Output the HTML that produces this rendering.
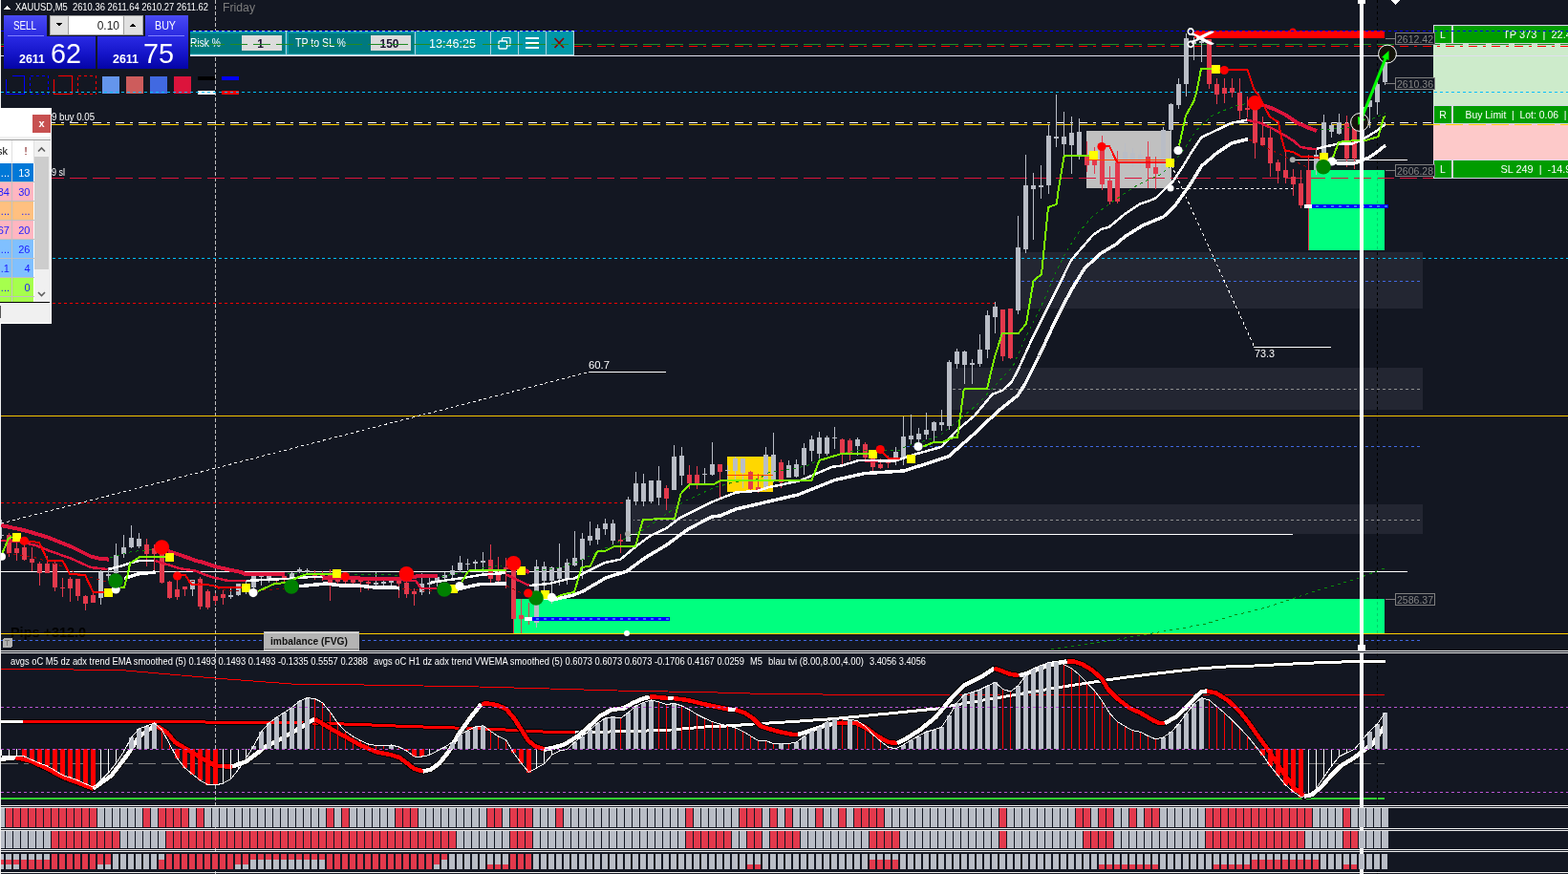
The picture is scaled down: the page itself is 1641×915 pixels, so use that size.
<!DOCTYPE html>
<html><head><meta charset="utf-8"><title>XAUUSD,M5</title>
<style>
html,body{margin:0;padding:0;background:#131722;overflow:hidden;width:1641px;height:915px}
svg{display:block;font-family:"Liberation Sans",sans-serif;shape-rendering:crispEdges}
.aa{shape-rendering:crispEdges}
text{white-space:pre}
</style></head><body>
<svg width="1641" height="915" viewBox="0 0 1641 915">
<defs>
<linearGradient id="gb" x1="0" y1="0" x2="0" y2="1"><stop offset="0" stop-color="#4a4af4"/><stop offset="1" stop-color="#2a2ae0"/></linearGradient>
<linearGradient id="gp" x1="0" y1="0" x2="0" y2="1"><stop offset="0" stop-color="#2a2ae4"/><stop offset="0.55" stop-color="#1414c8"/><stop offset="1" stop-color="#0404a6"/></linearGradient>
<clipPath id="cm"><rect x="0" y="0" width="1641" height="681"/></clipPath>
<clipPath id="ci"><rect x="0" y="684" width="1641" height="159"/></clipPath>
</defs>
<rect x="0" y="0" width="1641" height="915" fill="#131722"/>

<g clip-path="url(#cm)">
<rect x="1068" y="264" width="421" height="59" fill="#232632" />
<rect x="996" y="385" width="493" height="44" fill="#232632" />
<rect x="661" y="528" width="828" height="31" fill="#232632" />
<rect x="538" y="627" width="911" height="36" fill="#00ff7f" />
<rect x="1370" y="178" width="79" height="84" fill="#00ff7f" />
<rect x="1137" y="137" width="89" height="60" fill="#c0c0c0" />
<rect x="761" y="478" width="48" height="37" fill="#ffd700" />
<rect x="1500" y="46" width="141" height="65" fill="#cdebcb" />
<rect x="1500" y="130" width="141" height="38" fill="#fdc9c9" />
<rect x="1500" y="26" width="141" height="20" fill="#d6d8e6" />
<rect x="1501" y="27" width="18" height="18" fill="#009c00" />
<rect x="1521" y="27" width="120" height="18" fill="#009c00" />
<rect x="1500" y="110" width="141" height="20" fill="#d6d8e6" />
<rect x="1501" y="111" width="18" height="18" fill="#009c00" />
<rect x="1521" y="111" width="120" height="18" fill="#009c00" />
<rect x="1500" y="167" width="141" height="20" fill="#d6d8e6" />
<rect x="1501" y="168" width="18" height="18" fill="#009c00" />
<rect x="1521" y="168" width="120" height="18" fill="#009c00" />
<text x="1510" y="40" font-size="10.5" fill="#fff" text-anchor="middle" >L</text>
<text x="1510" y="124" font-size="10.5" fill="#fff" text-anchor="middle" >R</text>
<text x="1510" y="181" font-size="10.5" fill="#fff" text-anchor="middle" >L</text>
<text x="1573" y="40" font-size="10.5" fill="#fff" textLength="78" lengthAdjust="spacingAndGlyphs" >TP 373  |  22.47</text>
<text x="1533.5" y="124" font-size="10.5" fill="#fff" textLength="106" lengthAdjust="spacingAndGlyphs" >Buy Limit  |  Lot: 0.06  |</text>
<text x="1570.5" y="181" font-size="10.5" fill="#fff" textLength="80" lengthAdjust="spacingAndGlyphs" >SL 249  |  -14.95</text>
<path d="M1 48.5H1641" stroke="#ff0000" stroke-width="1" fill="none" stroke-dasharray="9,6,3,6" stroke-dashoffset="0" />
<path d="M225.5 0V681" stroke="#c0c0c0" stroke-width="1" fill="none" stroke-dasharray="4,2" stroke-dashoffset="0" />
<rect x="199" y="32" width="402" height="27" fill="#b4dce6" />
<rect x="199" y="33" width="402" height="24" fill="#0097a7" />
<rect x="199" y="35" width="99" height="21" fill="#00797f" />
<rect x="302" y="35" width="131" height="21" fill="#00797f" />
<rect x="299" y="33" width="1" height="24" fill="#b4d4e0" />
<rect x="434" y="33" width="1" height="24" fill="#b4d4e0" />
<rect x="513" y="33" width="1" height="24" fill="#b4d4e0" />
<rect x="542" y="33" width="1" height="24" fill="#b4d4e0" />
<rect x="571" y="33" width="1" height="24" fill="#b4d4e0" />
<rect x="600" y="33" width="1" height="24" fill="#b4d4e0" />
<rect x="300" y="33" width="1" height="24" fill="#0097a7" />
<rect x="253" y="37" width="42" height="16" fill="#dcdcdc" />
<rect x="388" y="37" width="42" height="16" fill="#dcdcdc" />
<text x="199" y="49" font-size="12" fill="#fff" textLength="32" lengthAdjust="spacingAndGlyphs" >Risk %</text>
<text x="272.5" y="49.5" font-size="12" fill="#1a1030" font-weight="bold" text-anchor="middle" >1</text>
<text x="309" y="49" font-size="12" fill="#fff" textLength="53" lengthAdjust="spacingAndGlyphs" >TP to SL %</text>
<text x="407.5" y="49.5" font-size="12" fill="#1a1030" font-weight="bold" text-anchor="middle" textLength="20" lengthAdjust="spacingAndGlyphs" >150</text>
<text x="449" y="50" font-size="13" fill="#fff" textLength="49" lengthAdjust="spacingAndGlyphs" >13:46:25</text>
<g fill="none" stroke="#fff" stroke-width="1" style="shape-rendering:geometricPrecision"><path d="M525.5 43V40.5a1 1 0 0 1 1 -1H533a1 1 0 0 1 1 1V47a1 1 0 0 1 -1 1H530.5" stroke-width="1.2"/><rect x="522" y="43" width="8.5" height="8" rx="1" stroke-width="1.3"/></g>
<rect x="550" y="39" width="14" height="2" fill="#fff" />
<rect x="550" y="44" width="14" height="2" fill="#fff" />
<rect x="550" y="49" width="14" height="2" fill="#fff" />
<path d="M580.5 40L590 50M590 40L580.5 50" stroke="#8b0000" stroke-width="1.7" fill="none" style="shape-rendering:geometricPrecision"/>
<text x="11" y="667" font-size="14" fill="#000" font-weight="bold" textLength="79" lengthAdjust="spacingAndGlyphs" >Pips +312.0</text>
<path d="M1 32.5H1641" stroke="#0000ff" stroke-width="1" fill="none" stroke-dasharray="3,3" stroke-dashoffset="0" />
<path d="M1 46.5H1641" stroke="#228b22" stroke-width="1" fill="none" stroke-dasharray="18,6" stroke-dashoffset="0" />
<path d="M601 48.5H1641" stroke="#ff0000" stroke-width="1" fill="none" stroke-dasharray="9,6,3,6" stroke-dashoffset="0" />
<path d="M1 58.5H1641" stroke="#e0e0ee" stroke-width="1" fill="none" />
<path d="M1 96.5H1641" stroke="#00bfff" stroke-width="1" fill="none" stroke-dasharray="3,3" stroke-dashoffset="0" />
<path d="M1 128.5H1500" stroke="#ffffff" stroke-width="1" fill="none" stroke-dasharray="9,6,3,6" stroke-dashoffset="0" />
<path d="M1 130.5H1641" stroke="#ffd000" stroke-width="1" fill="none" stroke-dasharray="18,6" stroke-dashoffset="0" />
<path d="M1 186.5H1500" stroke="#dc143c" stroke-width="1" fill="none" stroke-dasharray="18,6" stroke-dashoffset="0" />
<path d="M1 270.5H1641" stroke="#00bfff" stroke-width="1" fill="none" stroke-dasharray="3,3" stroke-dashoffset="0" />
<path d="M1065 294.5H1489" stroke="#4169e1" stroke-width="1" fill="none" stroke-dasharray="3,3" stroke-dashoffset="2" />
<path d="M1 317.5H1041" stroke="#ff0000" stroke-width="1" fill="none" stroke-dasharray="3,3" stroke-dashoffset="0" />
<path d="M997 407.5H1489" stroke="#909090" stroke-width="1" fill="none" stroke-dasharray="3,3" stroke-dashoffset="0" />
<path d="M1 435.5H1641" stroke="#f5c400" stroke-width="1" fill="none" />
<path d="M945 467.5H1489" stroke="#4169e1" stroke-width="1" fill="none" stroke-dasharray="3,3" stroke-dashoffset="2" />
<path d="M1 526.5H657" stroke="#ff0000" stroke-width="1" fill="none" stroke-dasharray="3,3" stroke-dashoffset="0" />
<path d="M663 544.5H1489" stroke="#909090" stroke-width="1" fill="none" stroke-dasharray="3,3" stroke-dashoffset="2" />
<path d="M657 559.5H1353" stroke="#ffffff" stroke-width="1" fill="none" />
<path d="M1 598.5H1473" stroke="#ffffff" stroke-width="1" fill="none" />
<path d="M1353 167.5H1473" stroke="#ffffff" stroke-width="1" fill="none" />
<path d="M1225 197.5H1353" stroke="#ffffff" stroke-width="1" fill="none" stroke-dasharray="3,3" stroke-dashoffset="0" />
<path d="M1 663.5H1641" stroke="#ffd000" stroke-width="1" fill="none" />
<path d="M1 670.5H1489" stroke="#4169e1" stroke-width="1" fill="none" stroke-dasharray="3,3" stroke-dashoffset="0" />
<path d="M1441.5 0V681" stroke="#000000" stroke-width="1" fill="none" stroke-dasharray="3,3" stroke-dashoffset="0" />
<rect x="1441" y="178" width="1" height="84" fill="#00ff7f" />
<rect x="1441" y="627" width="1" height="36" fill="#00ff7f" />
<path d="M1441.5 178V262" stroke="#000000" stroke-width="1" fill="none" stroke-dasharray="3,3" stroke-dashoffset="4" opacity="0.18"/>
<path d="M1441.5 627V663" stroke="#000000" stroke-width="1" fill="none" stroke-dasharray="3,3" stroke-dashoffset="3" opacity="0.18"/>
<rect x="1250" y="32" width="199" height="8" fill="#ff0000" />
<circle style="shape-rendering:geometricPrecision" cx="1353" cy="33" r="3.5" fill="#ff0000" />
<path d="M1250 32.5H1449" stroke="#0000ff" stroke-width="1" fill="none" stroke-dasharray="3,3" stroke-dashoffset="1" />
<path d="M1 548L616 389.5" stroke="#fff" stroke-width="1" stroke-dasharray="3,3" fill="none" class="aa"/>
<path d="M616 389.5H697" stroke="#ffffff" stroke-width="1" fill="none" />
<path d="M1226 173L1312.5 362.5" stroke="#fff" stroke-width="1" stroke-dasharray="3,3" fill="none" class="aa"/>
<path d="M1312 363.5H1393" stroke="#ffffff" stroke-width="1" fill="none" />
<text x="616" y="386" font-size="11" fill="#fff" textLength="22" lengthAdjust="spacingAndGlyphs" >60.7</text>
<text x="1313" y="374" font-size="11" fill="#fff" textLength="21" lengthAdjust="spacingAndGlyphs" >73.3</text>
<text x="54" y="126" font-size="11" fill="#fff" textLength="45" lengthAdjust="spacingAndGlyphs" >9 buy 0.05</text>
<text x="54" y="184" font-size="11" fill="#fff" textLength="14" lengthAdjust="spacingAndGlyphs" >9 sl</text>
<rect x="1" y="544" width="1" height="20" fill="#b9bdc6" />
<rect x="-1" y="560" width="5" height="1" fill="#b9bdc6" />
<rect x="9" y="558" width="1" height="25" fill="#e3394c" />
<rect x="7" y="560" width="5" height="19" fill="#e3394c" />
<rect x="17" y="568" width="1" height="19" fill="#e3394c" />
<rect x="15" y="574" width="5" height="5" fill="#e3394c" />
<rect x="25" y="570" width="1" height="17" fill="#e3394c" />
<rect x="23" y="573" width="5" height="13" fill="#e3394c" />
<rect x="33" y="573" width="1" height="25" fill="#e3394c" />
<rect x="31" y="585" width="5" height="4" fill="#e3394c" />
<rect x="41" y="588" width="1" height="25" fill="#e3394c" />
<rect x="39" y="590" width="5" height="10" fill="#e3394c" />
<rect x="49" y="582" width="1" height="18" fill="#e3394c" />
<rect x="47" y="590" width="5" height="10" fill="#e3394c" />
<rect x="57" y="588" width="1" height="31" fill="#e3394c" />
<rect x="55" y="590" width="5" height="25" fill="#e3394c" />
<rect x="65" y="605" width="1" height="20" fill="#e3394c" />
<rect x="63" y="615" width="5" height="1" fill="#e3394c" />
<rect x="73" y="604" width="1" height="26" fill="#e3394c" />
<rect x="71" y="606" width="5" height="10" fill="#e3394c" />
<rect x="81" y="606" width="1" height="23" fill="#e3394c" />
<rect x="79" y="606" width="5" height="18" fill="#e3394c" />
<rect x="89" y="623" width="1" height="16" fill="#e3394c" />
<rect x="87" y="624" width="5" height="8" fill="#e3394c" />
<rect x="97" y="621" width="1" height="10" fill="#e3394c" />
<rect x="95" y="623" width="5" height="8" fill="#e3394c" />
<rect x="105" y="597" width="1" height="36" fill="#b9bdc6" />
<rect x="103" y="599" width="5" height="27" fill="#b9bdc6" />
<rect x="113" y="594" width="1" height="14" fill="#b9bdc6" />
<rect x="111" y="601" width="5" height="2" fill="#b9bdc6" />
<rect x="121" y="569" width="1" height="35" fill="#b9bdc6" />
<rect x="119" y="581" width="5" height="19" fill="#b9bdc6" />
<rect x="129" y="560" width="1" height="24" fill="#b9bdc6" />
<rect x="127" y="573" width="5" height="7" fill="#b9bdc6" />
<rect x="137" y="550" width="1" height="24" fill="#b9bdc6" />
<rect x="135" y="563" width="5" height="10" fill="#b9bdc6" />
<rect x="145" y="558" width="1" height="16" fill="#b9bdc6" />
<rect x="143" y="564" width="5" height="8" fill="#b9bdc6" />
<rect x="153" y="564" width="1" height="29" fill="#e3394c" />
<rect x="151" y="570" width="5" height="10" fill="#e3394c" />
<rect x="161" y="570" width="1" height="27" fill="#e3394c" />
<rect x="159" y="574" width="5" height="6" fill="#e3394c" />
<rect x="169" y="574" width="1" height="37" fill="#e3394c" />
<rect x="167" y="575" width="5" height="35" fill="#e3394c" />
<rect x="177" y="608" width="1" height="19" fill="#e3394c" />
<rect x="175" y="609" width="5" height="17" fill="#e3394c" />
<rect x="185" y="606" width="1" height="22" fill="#e3394c" />
<rect x="183" y="617" width="5" height="8" fill="#e3394c" />
<rect x="193" y="614" width="1" height="10" fill="#e3394c" />
<rect x="191" y="614" width="5" height="3" fill="#e3394c" />
<rect x="201" y="607" width="1" height="17" fill="#b9bdc6" />
<rect x="199" y="607" width="5" height="10" fill="#b9bdc6" />
<rect x="209" y="604" width="1" height="34" fill="#e3394c" />
<rect x="207" y="606" width="5" height="29" fill="#e3394c" />
<rect x="217" y="617" width="1" height="21" fill="#e3394c" />
<rect x="215" y="619" width="5" height="17" fill="#e3394c" />
<rect x="225" y="621" width="1" height="12" fill="#e3394c" />
<rect x="223" y="624" width="5" height="5" fill="#e3394c" />
<rect x="233" y="618" width="1" height="15" fill="#e3394c" />
<rect x="231" y="622" width="5" height="4" fill="#e3394c" />
<rect x="241" y="616" width="1" height="11" fill="#b9bdc6" />
<rect x="239" y="623" width="5" height="2" fill="#b9bdc6" />
<rect x="249" y="611" width="1" height="13" fill="#b9bdc6" />
<rect x="247" y="611" width="5" height="12" fill="#b9bdc6" />
<rect x="257" y="608" width="1" height="14" fill="#b9bdc6" />
<rect x="255" y="611" width="5" height="9" fill="#b9bdc6" />
<rect x="265" y="602" width="1" height="14" fill="#b9bdc6" />
<rect x="263" y="603" width="5" height="12" fill="#b9bdc6" />
<rect x="273" y="602" width="1" height="11" fill="#b9bdc6" />
<rect x="271" y="602" width="5" height="2" fill="#b9bdc6" />
<rect x="281" y="602" width="1" height="8" fill="#b9bdc6" />
<rect x="279" y="602" width="5" height="4" fill="#b9bdc6" />
<rect x="289" y="605" width="1" height="5" fill="#e3394c" />
<rect x="287" y="606" width="5" height="2" fill="#e3394c" />
<rect x="297" y="603" width="1" height="8" fill="#e3394c" />
<rect x="295" y="603" width="5" height="3" fill="#e3394c" />
<rect x="305" y="599" width="1" height="7" fill="#b9bdc6" />
<rect x="303" y="600" width="5" height="4" fill="#b9bdc6" />
<rect x="313" y="594" width="1" height="6" fill="#b9bdc6" />
<rect x="311" y="596" width="5" height="3" fill="#b9bdc6" />
<rect x="321" y="595" width="1" height="5" fill="#b9bdc6" />
<rect x="319" y="597" width="5" height="2" fill="#b9bdc6" />
<rect x="329" y="597" width="1" height="10" fill="#e3394c" />
<rect x="327" y="601" width="5" height="2" fill="#e3394c" />
<rect x="337" y="598" width="1" height="10" fill="#e3394c" />
<rect x="335" y="602" width="5" height="2" fill="#e3394c" />
<rect x="345" y="596" width="1" height="33" fill="#e3394c" />
<rect x="343" y="602" width="5" height="9" fill="#e3394c" />
<rect x="353" y="604" width="1" height="7" fill="#e3394c" />
<rect x="351" y="606" width="5" height="3" fill="#e3394c" />
<rect x="361" y="601" width="1" height="11" fill="#e3394c" />
<rect x="359" y="607" width="5" height="2" fill="#e3394c" />
<rect x="369" y="605" width="1" height="6" fill="#e3394c" />
<rect x="367" y="607" width="5" height="3" fill="#e3394c" />
<rect x="377" y="605" width="1" height="15" fill="#e3394c" />
<rect x="375" y="607" width="5" height="2" fill="#e3394c" />
<rect x="385" y="608" width="1" height="10" fill="#e3394c" />
<rect x="383" y="609" width="5" height="2" fill="#e3394c" />
<rect x="393" y="599" width="1" height="14" fill="#b9bdc6" />
<rect x="391" y="610" width="5" height="2" fill="#b9bdc6" />
<rect x="401" y="604" width="1" height="9" fill="#b9bdc6" />
<rect x="399" y="609" width="5" height="2" fill="#b9bdc6" />
<rect x="409" y="604" width="1" height="9" fill="#b9bdc6" />
<rect x="407" y="608" width="5" height="2" fill="#b9bdc6" />
<rect x="417" y="606" width="1" height="20" fill="#e3394c" />
<rect x="415" y="608" width="5" height="3" fill="#e3394c" />
<rect x="425" y="606" width="1" height="20" fill="#e3394c" />
<rect x="423" y="610" width="5" height="12" fill="#e3394c" />
<rect x="433" y="616" width="1" height="18" fill="#e3394c" />
<rect x="431" y="619" width="5" height="3" fill="#e3394c" />
<rect x="441" y="600" width="1" height="23" fill="#b9bdc6" />
<rect x="439" y="611" width="5" height="9" fill="#b9bdc6" />
<rect x="449" y="605" width="1" height="17" fill="#b9bdc6" />
<rect x="447" y="610" width="5" height="2" fill="#b9bdc6" />
<rect x="457" y="603" width="1" height="11" fill="#b9bdc6" />
<rect x="455" y="604" width="5" height="5" fill="#b9bdc6" />
<rect x="465" y="599" width="1" height="7" fill="#b9bdc6" />
<rect x="463" y="602" width="5" height="3" fill="#b9bdc6" />
<rect x="473" y="592" width="1" height="14" fill="#b9bdc6" />
<rect x="471" y="597" width="5" height="5" fill="#b9bdc6" />
<rect x="481" y="582" width="1" height="17" fill="#b9bdc6" />
<rect x="479" y="589" width="5" height="8" fill="#b9bdc6" />
<rect x="489" y="585" width="1" height="12" fill="#b9bdc6" />
<rect x="487" y="590" width="5" height="1" fill="#b9bdc6" />
<rect x="497" y="586" width="1" height="11" fill="#b9bdc6" />
<rect x="495" y="588" width="5" height="2" fill="#b9bdc6" />
<rect x="505" y="578" width="1" height="23" fill="#b9bdc6" />
<rect x="503" y="587" width="5" height="2" fill="#b9bdc6" />
<rect x="513" y="570" width="1" height="40" fill="#e3394c" />
<rect x="511" y="586" width="5" height="20" fill="#e3394c" />
<rect x="521" y="583" width="1" height="27" fill="#e3394c" />
<rect x="519" y="599" width="5" height="9" fill="#e3394c" />
<rect x="529" y="584" width="1" height="32" fill="#e3394c" />
<rect x="527" y="594" width="5" height="2" fill="#e3394c" />
<rect x="537" y="590" width="1" height="73" fill="#e3394c" />
<rect x="535" y="596" width="5" height="52" fill="#e3394c" />
<rect x="545" y="627" width="1" height="36" fill="#e3394c" />
<rect x="543" y="644" width="5" height="4" fill="#e3394c" />
<rect x="553" y="631" width="1" height="23" fill="#e3394c" />
<rect x="551" y="647" width="5" height="3" fill="#e3394c" />
<rect x="561" y="586" width="1" height="71" fill="#b9bdc6" />
<rect x="559" y="593" width="5" height="59" fill="#b9bdc6" />
<rect x="569" y="588" width="1" height="32" fill="#b9bdc6" />
<rect x="567" y="593" width="5" height="15" fill="#b9bdc6" />
<rect x="577" y="593" width="1" height="39" fill="#b9bdc6" />
<rect x="575" y="594" width="5" height="14" fill="#b9bdc6" />
<rect x="585" y="569" width="1" height="44" fill="#b9bdc6" />
<rect x="583" y="594" width="5" height="12" fill="#b9bdc6" />
<rect x="593" y="585" width="1" height="27" fill="#b9bdc6" />
<rect x="591" y="589" width="5" height="17" fill="#b9bdc6" />
<rect x="601" y="556" width="1" height="37" fill="#b9bdc6" />
<rect x="599" y="584" width="5" height="8" fill="#b9bdc6" />
<rect x="609" y="558" width="1" height="48" fill="#b9bdc6" />
<rect x="607" y="564" width="5" height="22" fill="#b9bdc6" />
<rect x="617" y="546" width="1" height="25" fill="#b9bdc6" />
<rect x="615" y="561" width="5" height="5" fill="#b9bdc6" />
<rect x="625" y="549" width="1" height="21" fill="#b9bdc6" />
<rect x="623" y="553" width="5" height="12" fill="#b9bdc6" />
<rect x="633" y="543" width="1" height="17" fill="#b9bdc6" />
<rect x="631" y="548" width="5" height="6" fill="#b9bdc6" />
<rect x="641" y="544" width="1" height="26" fill="#b9bdc6" />
<rect x="639" y="548" width="5" height="18" fill="#b9bdc6" />
<rect x="649" y="559" width="1" height="20" fill="#e3394c" />
<rect x="647" y="565" width="5" height="2" fill="#e3394c" />
<rect x="657" y="520" width="1" height="47" fill="#b9bdc6" />
<rect x="655" y="523" width="5" height="44" fill="#b9bdc6" />
<rect x="665" y="494" width="1" height="35" fill="#b9bdc6" />
<rect x="663" y="506" width="5" height="19" fill="#b9bdc6" />
<rect x="673" y="496" width="1" height="34" fill="#b9bdc6" />
<rect x="671" y="506" width="5" height="19" fill="#b9bdc6" />
<rect x="681" y="503" width="1" height="24" fill="#b9bdc6" />
<rect x="679" y="503" width="5" height="22" fill="#b9bdc6" />
<rect x="689" y="488" width="1" height="41" fill="#b9bdc6" />
<rect x="687" y="503" width="5" height="18" fill="#b9bdc6" />
<rect x="697" y="508" width="1" height="26" fill="#e3394c" />
<rect x="695" y="511" width="5" height="11" fill="#e3394c" />
<rect x="705" y="466" width="1" height="47" fill="#b9bdc6" />
<rect x="703" y="478" width="5" height="35" fill="#b9bdc6" />
<rect x="713" y="468" width="1" height="40" fill="#b9bdc6" />
<rect x="711" y="477" width="5" height="21" fill="#b9bdc6" />
<rect x="721" y="487" width="1" height="25" fill="#e3394c" />
<rect x="719" y="497" width="5" height="9" fill="#e3394c" />
<rect x="729" y="488" width="1" height="24" fill="#e3394c" />
<rect x="727" y="497" width="5" height="9" fill="#e3394c" />
<rect x="737" y="490" width="1" height="16" fill="#b9bdc6" />
<rect x="735" y="496" width="5" height="1" fill="#b9bdc6" />
<rect x="745" y="463" width="1" height="35" fill="#b9bdc6" />
<rect x="743" y="486" width="5" height="11" fill="#b9bdc6" />
<rect x="753" y="486" width="1" height="36" fill="#e3394c" />
<rect x="751" y="486" width="5" height="8" fill="#e3394c" />
<rect x="761" y="487" width="1" height="18" fill="#b9bdc6" />
<rect x="759" y="492" width="5" height="1" fill="#b9bdc6" />
<rect x="769" y="478" width="1" height="25" fill="#b9bdc6" />
<rect x="767" y="480" width="5" height="13" fill="#b9bdc6" />
<rect x="777" y="480" width="1" height="31" fill="#b9bdc6" />
<rect x="775" y="480" width="5" height="15" fill="#b9bdc6" />
<rect x="785" y="493" width="1" height="20" fill="#e3394c" />
<rect x="783" y="494" width="5" height="18" fill="#e3394c" />
<rect x="793" y="496" width="1" height="20" fill="#e3394c" />
<rect x="791" y="510" width="5" height="3" fill="#e3394c" />
<rect x="801" y="468" width="1" height="46" fill="#b9bdc6" />
<rect x="799" y="476" width="5" height="34" fill="#b9bdc6" />
<rect x="809" y="453" width="1" height="52" fill="#b9bdc6" />
<rect x="807" y="476" width="5" height="28" fill="#b9bdc6" />
<rect x="817" y="481" width="1" height="30" fill="#e3394c" />
<rect x="815" y="484" width="5" height="21" fill="#e3394c" />
<rect x="825" y="482" width="1" height="18" fill="#b9bdc6" />
<rect x="823" y="487" width="5" height="13" fill="#b9bdc6" />
<rect x="833" y="481" width="1" height="19" fill="#b9bdc6" />
<rect x="831" y="486" width="5" height="13" fill="#b9bdc6" />
<rect x="841" y="464" width="1" height="33" fill="#b9bdc6" />
<rect x="839" y="469" width="5" height="18" fill="#b9bdc6" />
<rect x="849" y="456" width="1" height="27" fill="#b9bdc6" />
<rect x="847" y="460" width="5" height="12" fill="#b9bdc6" />
<rect x="857" y="452" width="1" height="28" fill="#b9bdc6" />
<rect x="855" y="458" width="5" height="17" fill="#b9bdc6" />
<rect x="865" y="456" width="1" height="21" fill="#b9bdc6" />
<rect x="863" y="458" width="5" height="17" fill="#b9bdc6" />
<rect x="873" y="447" width="1" height="23" fill="#b9bdc6" />
<rect x="871" y="458" width="5" height="1" fill="#b9bdc6" />
<rect x="881" y="459" width="1" height="27" fill="#e3394c" />
<rect x="879" y="460" width="5" height="15" fill="#e3394c" />
<rect x="889" y="459" width="1" height="23" fill="#e3394c" />
<rect x="887" y="461" width="5" height="13" fill="#e3394c" />
<rect x="897" y="458" width="1" height="19" fill="#b9bdc6" />
<rect x="895" y="460" width="5" height="7" fill="#b9bdc6" />
<rect x="905" y="463" width="1" height="18" fill="#e3394c" />
<rect x="903" y="465" width="5" height="14" fill="#e3394c" />
<rect x="913" y="478" width="1" height="15" fill="#e3394c" />
<rect x="911" y="480" width="5" height="9" fill="#e3394c" />
<rect x="921" y="480" width="1" height="11" fill="#e3394c" />
<rect x="919" y="486" width="5" height="4" fill="#e3394c" />
<rect x="929" y="477" width="1" height="13" fill="#e3394c" />
<rect x="927" y="481" width="5" height="4" fill="#e3394c" />
<rect x="937" y="468" width="1" height="19" fill="#b9bdc6" />
<rect x="935" y="473" width="5" height="10" fill="#b9bdc6" />
<rect x="945" y="436" width="1" height="51" fill="#b9bdc6" />
<rect x="943" y="457" width="5" height="23" fill="#b9bdc6" />
<rect x="953" y="434" width="1" height="32" fill="#b9bdc6" />
<rect x="951" y="456" width="5" height="4" fill="#b9bdc6" />
<rect x="961" y="448" width="1" height="15" fill="#b9bdc6" />
<rect x="959" y="454" width="5" height="6" fill="#b9bdc6" />
<rect x="969" y="432" width="1" height="28" fill="#b9bdc6" />
<rect x="967" y="450" width="5" height="5" fill="#b9bdc6" />
<rect x="977" y="441" width="1" height="22" fill="#b9bdc6" />
<rect x="975" y="442" width="5" height="9" fill="#b9bdc6" />
<rect x="985" y="429" width="1" height="22" fill="#b9bdc6" />
<rect x="983" y="442" width="5" height="3" fill="#b9bdc6" />
<rect x="993" y="377" width="1" height="73" fill="#b9bdc6" />
<rect x="991" y="379" width="5" height="67" fill="#b9bdc6" />
<rect x="1001" y="365" width="1" height="21" fill="#b9bdc6" />
<rect x="999" y="368" width="5" height="13" fill="#b9bdc6" />
<rect x="1009" y="367" width="1" height="35" fill="#b9bdc6" />
<rect x="1007" y="368" width="5" height="14" fill="#b9bdc6" />
<rect x="1017" y="376" width="1" height="26" fill="#b9bdc6" />
<rect x="1015" y="380" width="5" height="2" fill="#b9bdc6" />
<rect x="1025" y="350" width="1" height="34" fill="#b9bdc6" />
<rect x="1023" y="366" width="5" height="15" fill="#b9bdc6" />
<rect x="1033" y="325" width="1" height="50" fill="#b9bdc6" />
<rect x="1031" y="330" width="5" height="36" fill="#b9bdc6" />
<rect x="1041" y="316" width="1" height="33" fill="#b9bdc6" />
<rect x="1039" y="321" width="5" height="11" fill="#b9bdc6" />
<rect x="1049" y="324" width="1" height="54" fill="#e3394c" />
<rect x="1047" y="324" width="5" height="49" fill="#e3394c" />
<rect x="1057" y="323" width="1" height="53" fill="#e3394c" />
<rect x="1055" y="323" width="5" height="52" fill="#e3394c" />
<rect x="1065" y="226" width="1" height="103" fill="#b9bdc6" />
<rect x="1063" y="259" width="5" height="66" fill="#b9bdc6" />
<rect x="1073" y="162" width="1" height="103" fill="#b9bdc6" />
<rect x="1071" y="194" width="5" height="67" fill="#b9bdc6" />
<rect x="1081" y="181" width="1" height="70" fill="#b9bdc6" />
<rect x="1079" y="194" width="5" height="4" fill="#b9bdc6" />
<rect x="1089" y="173" width="1" height="35" fill="#b9bdc6" />
<rect x="1087" y="194" width="5" height="2" fill="#b9bdc6" />
<rect x="1097" y="131" width="1" height="72" fill="#b9bdc6" />
<rect x="1095" y="142" width="5" height="52" fill="#b9bdc6" />
<rect x="1105" y="99" width="1" height="55" fill="#b9bdc6" />
<rect x="1103" y="143" width="5" height="2" fill="#b9bdc6" />
<rect x="1113" y="117" width="1" height="47" fill="#b9bdc6" />
<rect x="1111" y="143" width="5" height="8" fill="#b9bdc6" />
<rect x="1121" y="122" width="1" height="60" fill="#b9bdc6" />
<rect x="1119" y="139" width="5" height="13" fill="#b9bdc6" />
<rect x="1129" y="124" width="1" height="43" fill="#b9bdc6" />
<rect x="1127" y="138" width="5" height="24" fill="#b9bdc6" />
<rect x="1137" y="148" width="1" height="32" fill="#e3394c" />
<rect x="1135" y="164" width="5" height="9" fill="#e3394c" />
<rect x="1145" y="154" width="1" height="28" fill="#e3394c" />
<rect x="1143" y="167" width="5" height="6" fill="#e3394c" />
<rect x="1153" y="142" width="1" height="57" fill="#e3394c" />
<rect x="1151" y="153" width="5" height="40" fill="#e3394c" />
<rect x="1161" y="174" width="1" height="40" fill="#e3394c" />
<rect x="1159" y="189" width="5" height="22" fill="#e3394c" />
<rect x="1169" y="158" width="1" height="55" fill="#e3394c" />
<rect x="1167" y="170" width="5" height="41" fill="#e3394c" />
<rect x="1177" y="150" width="1" height="22" fill="#b9bdc6" />
<rect x="1175" y="159" width="5" height="11" fill="#b9bdc6" />
<rect x="1185" y="155" width="1" height="20" fill="#b9bdc6" />
<rect x="1183" y="160" width="5" height="8" fill="#b9bdc6" />
<rect x="1193" y="157" width="1" height="19" fill="#b9bdc6" />
<rect x="1191" y="162" width="5" height="5" fill="#b9bdc6" />
<rect x="1201" y="148" width="1" height="49" fill="#e3394c" />
<rect x="1199" y="164" width="5" height="12" fill="#e3394c" />
<rect x="1209" y="164" width="1" height="34" fill="#e3394c" />
<rect x="1207" y="175" width="5" height="7" fill="#e3394c" />
<rect x="1217" y="133" width="1" height="52" fill="#b9bdc6" />
<rect x="1215" y="136" width="5" height="46" fill="#b9bdc6" />
<rect x="1225" y="108" width="1" height="43" fill="#b9bdc6" />
<rect x="1223" y="109" width="5" height="27" fill="#b9bdc6" />
<rect x="1233" y="82" width="1" height="32" fill="#b9bdc6" />
<rect x="1231" y="88" width="5" height="22" fill="#b9bdc6" />
<rect x="1241" y="35" width="1" height="66" fill="#b9bdc6" />
<rect x="1239" y="40" width="5" height="48" fill="#b9bdc6" />
<rect x="1249" y="39" width="1" height="24" fill="#b9bdc6" />
<rect x="1247" y="44" width="5" height="2" fill="#b9bdc6" />
<rect x="1257" y="41" width="1" height="24" fill="#b9bdc6" />
<rect x="1255" y="43" width="5" height="2" fill="#b9bdc6" />
<rect x="1265" y="41" width="1" height="52" fill="#e3394c" />
<rect x="1263" y="41" width="5" height="47" fill="#e3394c" />
<rect x="1273" y="82" width="1" height="27" fill="#e3394c" />
<rect x="1271" y="88" width="5" height="11" fill="#e3394c" />
<rect x="1281" y="82" width="1" height="26" fill="#e3394c" />
<rect x="1279" y="92" width="5" height="6" fill="#e3394c" />
<rect x="1289" y="82" width="1" height="20" fill="#e3394c" />
<rect x="1287" y="92" width="5" height="5" fill="#e3394c" />
<rect x="1297" y="82" width="1" height="43" fill="#e3394c" />
<rect x="1295" y="97" width="5" height="19" fill="#e3394c" />
<rect x="1305" y="101" width="1" height="22" fill="#e3394c" />
<rect x="1303" y="113" width="5" height="2" fill="#e3394c" />
<rect x="1313" y="108" width="1" height="58" fill="#e3394c" />
<rect x="1311" y="114" width="5" height="36" fill="#e3394c" />
<rect x="1321" y="122" width="1" height="31" fill="#e3394c" />
<rect x="1319" y="144" width="5" height="8" fill="#e3394c" />
<rect x="1329" y="135" width="1" height="50" fill="#e3394c" />
<rect x="1327" y="144" width="5" height="27" fill="#e3394c" />
<rect x="1337" y="167" width="1" height="25" fill="#e3394c" />
<rect x="1335" y="170" width="5" height="9" fill="#e3394c" />
<rect x="1345" y="159" width="1" height="33" fill="#e3394c" />
<rect x="1343" y="178" width="5" height="8" fill="#e3394c" />
<rect x="1353" y="177" width="1" height="28" fill="#e3394c" />
<rect x="1351" y="185" width="5" height="8" fill="#e3394c" />
<rect x="1361" y="178" width="1" height="40" fill="#e3394c" />
<rect x="1359" y="192" width="5" height="23" fill="#e3394c" />
<rect x="1369" y="162" width="1" height="100" fill="#e3394c" />
<rect x="1367" y="178" width="5" height="37" fill="#e3394c" />
<rect x="1377" y="157" width="1" height="26" fill="#b9bdc6" />
<rect x="1375" y="162" width="5" height="16" fill="#b9bdc6" />
<rect x="1385" y="120" width="1" height="45" fill="#b9bdc6" />
<rect x="1383" y="128" width="5" height="34" fill="#b9bdc6" />
<rect x="1393" y="128" width="1" height="16" fill="#b9bdc6" />
<rect x="1391" y="131" width="5" height="7" fill="#b9bdc6" />
<rect x="1401" y="119" width="1" height="22" fill="#b9bdc6" />
<rect x="1399" y="128" width="5" height="12" fill="#b9bdc6" />
<rect x="1409" y="121" width="1" height="54" fill="#e3394c" />
<rect x="1407" y="129" width="5" height="37" fill="#e3394c" />
<rect x="1417" y="128" width="1" height="49" fill="#e3394c" />
<rect x="1415" y="131" width="5" height="35" fill="#e3394c" />
<rect x="1425" y="110" width="1" height="58" fill="#b9bdc6" />
<rect x="1423" y="112" width="5" height="54" fill="#b9bdc6" />
<rect x="1433" y="104" width="1" height="30" fill="#b9bdc6" />
<rect x="1431" y="105" width="5" height="7" fill="#b9bdc6" />
<rect x="1441" y="86" width="1" height="34" fill="#b9bdc6" />
<rect x="1439" y="88" width="5" height="19" fill="#b9bdc6" />
<rect x="1449" y="57" width="1" height="32" fill="#b9bdc6" />
<rect x="1447" y="60" width="5" height="26" fill="#b9bdc6" />
<rect x="557" y="646" width="144" height="4" fill="#0000ff" />
<rect x="549" y="646" width="8" height="4" fill="#ffffff" />
<rect x="1372" y="214" width="81" height="4" fill="#0000ff" />
<rect x="1365" y="214" width="8" height="4" fill="#ffffff" />
<rect x="561" y="647" width="3" height="2" fill="#2a7cff" />
<rect x="569" y="647" width="3" height="2" fill="#2a7cff" />
<rect x="577" y="647" width="3" height="2" fill="#2a7cff" />
<rect x="585" y="647" width="3" height="2" fill="#2a7cff" />
<rect x="593" y="647" width="3" height="2" fill="#2a7cff" />
<rect x="601" y="647" width="3" height="2" fill="#2a7cff" />
<rect x="609" y="647" width="3" height="2" fill="#2a7cff" />
<rect x="617" y="647" width="3" height="2" fill="#2a7cff" />
<rect x="625" y="647" width="3" height="2" fill="#2a7cff" />
<rect x="633" y="647" width="3" height="2" fill="#2a7cff" />
<rect x="641" y="647" width="3" height="2" fill="#2a7cff" />
<rect x="649" y="647" width="3" height="2" fill="#2a7cff" />
<rect x="657" y="647" width="3" height="2" fill="#2a7cff" />
<rect x="665" y="647" width="3" height="2" fill="#2a7cff" />
<rect x="673" y="647" width="3" height="2" fill="#2a7cff" />
<rect x="681" y="647" width="3" height="2" fill="#2a7cff" />
<rect x="689" y="647" width="3" height="2" fill="#2a7cff" />
<rect x="697" y="647" width="3" height="2" fill="#2a7cff" />
<rect x="1377" y="215" width="3" height="2" fill="#2a7cff" />
<rect x="1385" y="215" width="3" height="2" fill="#2a7cff" />
<rect x="1393" y="215" width="3" height="2" fill="#2a7cff" />
<rect x="1401" y="215" width="3" height="2" fill="#2a7cff" />
<rect x="1409" y="215" width="3" height="2" fill="#2a7cff" />
<rect x="1417" y="215" width="3" height="2" fill="#2a7cff" />
<rect x="1425" y="215" width="3" height="2" fill="#2a7cff" />
<rect x="1433" y="215" width="3" height="2" fill="#2a7cff" />
<rect x="1441" y="215" width="3" height="2" fill="#2a7cff" />
<rect x="1449" y="215" width="3" height="2" fill="#2a7cff" />
<path d="M761 497.5H809" stroke="#ff4500" stroke-width="1" fill="none" />
<path d="M1137 167.5H1225" stroke="#ff4500" stroke-width="1" fill="none" />
<polyline class="aa" points="115,584 137.5,577.5 160,575.6" stroke="#0a8a0a" stroke-width="1" fill="none" stroke-linejoin="round" stroke-linecap="butt" stroke-dasharray="3,4"/>
<polyline class="aa" points="301,600.6 349,600.6 366,601 405,601.5 416,602.5" stroke="#0a8a0a" stroke-width="1" fill="none" stroke-linejoin="round" stroke-linecap="butt" stroke-dasharray="3,4"/>
<polyline class="aa" points="462.5,603.5 481,600 506,594.75 525,592" stroke="#0a8a0a" stroke-width="1" fill="none" stroke-linejoin="round" stroke-linecap="butt" stroke-dasharray="3,4"/>
<polyline class="aa" points="561,596.6 575,596 590,593.5 600,589 605,588 675,553.75 705,533 715,525.6 746,511 765,505.6 795,500.6 806,494 817.5,492.5 830,490.6 845,487.5 857.5,481 881,475 895,471.5 940,472 950,466 965,462.5 983.75,456 1000,442.5 1022.5,423.75 1040,405 1060,383.75 1072.5,355 1088.75,322.5 1098.75,300 1105,285 1115,265 1127.5,245 1142.5,227.5 1160,214 1172.5,205.6 1185,197 1197.5,190 1215,182.5 1226,173 1240,155 1252.5,136 1265,124 1268.75,121 1281,115.6 1293.75,110.6 1305,108.5" stroke="#0a8a0a" stroke-width="1" fill="none" stroke-linejoin="round" stroke-linecap="butt" stroke-dasharray="3,4"/>
<polyline class="aa" points="1382,136 1417,133.5 1440,122.5 1450,118.75" stroke="#0a8a0a" stroke-width="1" fill="none" stroke-linejoin="round" stroke-linecap="butt" stroke-dasharray="3,4"/>
<polyline class="aa" points="1100,680 1165,670 1230,659 1262,653 1292.5,644 1322.5,636.75 1352.5,626.75 1382.5,616.75 1417.5,606.75 1449,595" stroke="#0a8a0a" stroke-width="1" fill="none" stroke-linejoin="round" stroke-linecap="butt" stroke-dasharray="3,4"/>
<polyline class="aa" points="7.5,579 37.5,584 62.5,592 81,600 100,606 112.5,609" stroke="#a00000" stroke-width="1" fill="none" stroke-linejoin="round" stroke-linecap="butt" stroke-dasharray="3,4"/>
<polyline class="aa" points="200,608 225,614 230,617 241,618.5 275,618 297.5,616" stroke="#a00000" stroke-width="1" fill="none" stroke-linejoin="round" stroke-linecap="butt" stroke-dasharray="3,4"/>
<polyline class="aa" points="421,616 437.5,618 453.75,618" stroke="#a00000" stroke-width="1" fill="none" stroke-linejoin="round" stroke-linecap="butt" stroke-dasharray="3,4"/>
<polyline class="aa" points="530,613 550,623" stroke="#a00000" stroke-width="1" fill="none" stroke-linejoin="round" stroke-linecap="butt" stroke-dasharray="3,4"/>
<polyline class="aa" points="1307.5,146 1370,176" stroke="#a00000" stroke-width="1" fill="none" stroke-linejoin="round" stroke-linecap="butt" stroke-dasharray="3,4"/>
<polyline class="aa" points="1.25,566 20,567 37.5,571 50,576 75,585 95,594 112.5,596" stroke="#dc143c" stroke-width="2.5" fill="none" stroke-linejoin="round" stroke-linecap="butt" />
<polyline class="aa" points="162.5,587 175,591 187.5,595 205,597.75 212.5,601 225,605 237.5,607.75 257.5,608" stroke="#dc143c" stroke-width="2.5" fill="none" stroke-linejoin="round" stroke-linecap="butt" />
<polyline class="aa" points="417.5,607 435,608 440.6,615.75 457,616" stroke="#dc143c" stroke-width="2.5" fill="none" stroke-linejoin="round" stroke-linecap="butt" />
<polyline class="aa" points="505.6,602 513,602" stroke="#dc143c" stroke-width="2.5" fill="none" stroke-linejoin="round" stroke-linecap="butt" />
<polyline class="aa" points="530,601.6 553.75,613" stroke="#dc143c" stroke-width="2.5" fill="none" stroke-linejoin="round" stroke-linecap="butt" />
<polyline class="aa" points="905,482.75 922,482.75" stroke="#dc143c" stroke-width="2.5" fill="none" stroke-linejoin="round" stroke-linecap="butt" />
<polyline class="aa" points="1305,125.6 1320,129 1332.5,135 1345,142 1353.75,147.5 1361,153.75 1370,155.6 1378,156" stroke="#dc143c" stroke-width="2.5" fill="none" stroke-linejoin="round" stroke-linecap="butt" />
<polyline class="aa" points="1.25,550 25,555 50,562.5 75,572.5 95,582.5 105,585 114,585.6" stroke="#dc143c" stroke-width="4" fill="none" stroke-linejoin="round" stroke-linecap="butt" />
<polyline class="aa" points="176,577 187.5,580.6 205,587 212.5,588.75 225,593 237.5,596 252.5,599 256,600.6 297.5,600.6" stroke="#dc143c" stroke-width="4" fill="none" stroke-linejoin="round" stroke-linecap="butt" />
<polyline class="aa" points="337.5,605 362.5,605 405,606.5 425,606 437.5,603 457.5,603" stroke="#dc143c" stroke-width="4" fill="none" stroke-linejoin="round" stroke-linecap="butt" />
<polyline class="aa" points="543.75,594.75 553.75,599" stroke="#dc143c" stroke-width="4" fill="none" stroke-linejoin="round" stroke-linecap="butt" />
<polyline class="aa" points="1320,109.5 1332.5,113.75 1345,120 1357.5,128.5 1370,134 1378,137" stroke="#dc143c" stroke-width="4" fill="none" stroke-linejoin="round" stroke-linecap="butt" />
<polyline class="aa" points="130,605.6 143.75,601 162.5,599" stroke="#ffffff" stroke-width="3.5" fill="none" stroke-linejoin="round" stroke-linecap="butt" />
<polyline class="aa" points="313,613.75 331,612 341,611 357.5,613 375,613 390,614.75 412.5,614.75 418,616" stroke="#ffffff" stroke-width="3.5" fill="none" stroke-linejoin="round" stroke-linecap="butt" />
<polyline class="aa" points="475,618 487.5,614.75 502.5,611.6 530,611" stroke="#ffffff" stroke-width="3.5" fill="none" stroke-linejoin="round" stroke-linecap="butt" />
<polyline class="aa" points="569,626.6 582.5,627 600,623 610,619 634,605 656,598 675,584 697.5,570.6 720,554 745,541 753.75,540 770,533 793.75,527.5 815,522.5 835,518 845,514 873.75,502.5 905,495.6 946,493 992.5,478 1017.5,456 1045,430 1065,414 1072.5,402.5 1087.5,372.5 1103.75,337.5 1112.5,320 1121,304 1135,281 1152.5,265 1167.5,256 1177.5,247.5 1196,236 1217.5,227 1230,215 1245,194 1257.5,173.75 1273.75,160 1288.75,150 1306,145.6" stroke="#ffffff" stroke-width="3.5" fill="none" stroke-linejoin="round" stroke-linecap="butt" />
<polyline class="aa" points="1393.75,168 1400,171 1417.5,171 1432.5,165 1440,160 1450,152" stroke="#ffffff" stroke-width="3.5" fill="none" stroke-linejoin="round" stroke-linecap="butt" />
<polyline class="aa" points="113.75,596 125,593 137.5,589 146,587 161,587" stroke="#ffffff" stroke-width="2.5" fill="none" stroke-linejoin="round" stroke-linecap="butt" />
<polyline class="aa" points="258,608 275,607 287.5,606.5 306,605.6 325,604 337.5,603.75" stroke="#ffffff" stroke-width="2.5" fill="none" stroke-linejoin="round" stroke-linecap="butt" />
<polyline class="aa" points="450,610 470,607 485,605 505,601.6 528.75,600" stroke="#ffffff" stroke-width="2.5" fill="none" stroke-linejoin="round" stroke-linecap="butt" />
<polyline class="aa" points="554,613 575,611 595,606 600,606 616,597.5 633,589 649.4,585.6 665,572.5 681,560.6 697.5,553 711,542.5 743.75,526 770,515.6 793.75,513.75 802.5,510.6 817.5,507.5 835,503.75 840,502 871,488.75 881,487.5 898.75,482 937.5,482.5 957.5,475.6 985,468 1001,451 1020,435 1038.75,412.5 1048.75,409 1058.75,400 1066,386 1080,355 1095,325 1107.5,300 1121,272.5 1143.75,246 1152.5,240 1161,237.5 1177.5,223.75 1192.5,213.75 1208.75,208 1227.5,190 1240,171 1245,162.5 1257.5,143.75 1273.75,136 1288.75,128.75 1305,125.6" stroke="#ffffff" stroke-width="2.5" fill="none" stroke-linejoin="round" stroke-linecap="butt" />
<polyline class="aa" points="1378,155.6 1400,150.6 1415,150.6 1426,146 1440,137.5 1450,130" stroke="#ffffff" stroke-width="2.5" fill="none" stroke-linejoin="round" stroke-linecap="butt" />
<polyline class="aa" points="2.5,579 8.75,564 12.5,562" stroke="#7cfc00" stroke-width="2" fill="none" stroke-linejoin="round" stroke-linecap="butt" />
<polyline class="aa" points="126,615 130,614.75 134,600 136,590 146,583 173,583" stroke="#7cfc00" stroke-width="2" fill="none" stroke-linejoin="round" stroke-linecap="butt" />
<polyline class="aa" points="270,619 287.5,611 300,610 312.5,604 323,600.6 348,600.6" stroke="#7cfc00" stroke-width="2" fill="none" stroke-linejoin="round" stroke-linecap="butt" />
<polyline class="aa" points="483,609.75 489.4,599 492.5,597 530,596.6" stroke="#7cfc00" stroke-width="2" fill="none" stroke-linejoin="round" stroke-linecap="butt" />
<polyline class="aa" points="582.5,625 590,622 601,620 608.75,593.75 617.5,593 625,577.5 633,577 643,572 665,572 673,543.75 706,543 712.5,517 722,507 747,507 754.4,503 840,503 849.4,503 857.5,482 881,475 909,475" stroke="#7cfc00" stroke-width="2" fill="none" stroke-linejoin="round" stroke-linecap="butt" />
<polyline class="aa" points="966,467.5 977.5,463 987.5,462.5 995,458.75 1002,458 1008.75,407.5 1033,407 1041,373.75 1048.75,349.4 1066,348.75 1074,338.75 1080.6,300 1081.5,294 1090,287 1097,217 1105.6,214 1108,197 1113.75,163 1140,163" stroke="#7cfc00" stroke-width="2" fill="none" stroke-linejoin="round" stroke-linecap="butt" />
<polyline class="aa" points="1234,152.5 1241,121 1249.4,106 1252,97.5 1257,72 1268,72" stroke="#7cfc00" stroke-width="2" fill="none" stroke-linejoin="round" stroke-linecap="butt" />
<polyline class="aa" points="1395,165 1401,148.75 1420,147 1427.5,147.5 1442.5,143 1448,123 1450,122" stroke="#7cfc00" stroke-width="2" fill="none" stroke-linejoin="round" stroke-linecap="butt" />
<polyline class="aa" points="25.6,566 41,568 50,587 65.6,587 73,601 89,602 97.5,620 108.75,620" stroke="#ff0000" stroke-width="2" fill="none" stroke-linejoin="round" stroke-linecap="butt" />
<polyline class="aa" points="185.6,602 193.75,602 200,611.5 216,612 225,613.75 230,615 252.5,615" stroke="#ff0000" stroke-width="2" fill="none" stroke-linejoin="round" stroke-linecap="butt" />
<polyline class="aa" points="921,470.6 929.4,479.75 942,480" stroke="#ff0000" stroke-width="2" fill="none" stroke-linejoin="round" stroke-linecap="butt" />
<polyline class="aa" points="1153,153.5 1161,153 1169,169.5 1222,169.5" stroke="#ff0000" stroke-width="2" fill="none" stroke-linejoin="round" stroke-linecap="butt" />
<polyline class="aa" points="1281,73.5 1305.6,73 1312.5,93.75 1317.5,100 1323.75,112.5 1328.75,122 1338,128 1341,143.75 1345,158 1352.5,158.75 1362,164 1380.6,164.75" stroke="#ff0000" stroke-width="2" fill="none" stroke-linejoin="round" stroke-linecap="butt" />
<rect x="13" y="558" width="9" height="9" fill="#ffff00" />
<rect x="109" y="616" width="9" height="9" fill="#ffff00" />
<rect x="173" y="579" width="9" height="9" fill="#ffff00" />
<rect x="253" y="611" width="9" height="9" fill="#ffff00" />
<rect x="348" y="596" width="9" height="9" fill="#ffff00" />
<rect x="470" y="612" width="9" height="9" fill="#ffff00" />
<rect x="541" y="593" width="9" height="9" fill="#ffff00" />
<rect x="566" y="618" width="9" height="9" fill="#ffff00" />
<rect x="909" y="471" width="9" height="9" fill="#ffff00" />
<rect x="949" y="476" width="9" height="9" fill="#ffff00" />
<rect x="1140" y="158" width="9" height="9" fill="#ffff00" />
<rect x="1220" y="166" width="9" height="9" fill="#ffff00" />
<rect x="1268" y="68" width="9" height="9" fill="#ffff00" />
<rect x="1381" y="160" width="9" height="9" fill="#ffff00" />
<circle style="shape-rendering:geometricPrecision" cx="657" cy="559" r="3" fill="#a9a9a9" />
<circle style="shape-rendering:geometricPrecision" cx="1352.75" cy="167.25" r="3" fill="#a9a9a9" />
<circle style="shape-rendering:geometricPrecision" cx="2" cy="582.75" r="4" fill="#ffffff" />
<circle style="shape-rendering:geometricPrecision" cx="121.25" cy="617" r="4.5" fill="#ffffff" />
<circle style="shape-rendering:geometricPrecision" cx="265" cy="620.6" r="4.6" fill="#ffffff" />
<circle style="shape-rendering:geometricPrecision" cx="481" cy="613.5" r="4.6" fill="#ffffff" />
<circle style="shape-rendering:geometricPrecision" cx="577.5" cy="625.4" r="4.6" fill="#ffffff" />
<circle style="shape-rendering:geometricPrecision" cx="961" cy="467.5" r="4.6" fill="#ffffff" />
<circle style="shape-rendering:geometricPrecision" cx="1233" cy="157.5" r="4.6" fill="#ffffff" />
<circle style="shape-rendering:geometricPrecision" cx="1393.75" cy="169" r="4.6" fill="#ffffff" />
<circle style="shape-rendering:geometricPrecision" cx="1225" cy="197" r="3.5" fill="#ffffff" />
<circle style="shape-rendering:geometricPrecision" cx="656" cy="663" r="3" fill="#ffffff" />
<circle style="shape-rendering:geometricPrecision" cx="121" cy="608" r="7.75" fill="#008000" />
<circle style="shape-rendering:geometricPrecision" cx="305" cy="614" r="7.75" fill="#008000" />
<circle style="shape-rendering:geometricPrecision" cx="465" cy="617" r="7.75" fill="#008000" />
<circle style="shape-rendering:geometricPrecision" cx="561" cy="626" r="7.75" fill="#008000" />
<circle style="shape-rendering:geometricPrecision" cx="1385" cy="174.75" r="7.75" fill="#008000" />
<circle style="shape-rendering:geometricPrecision" cx="25.4" cy="566.25" r="4.6" fill="#ff0000" />
<circle style="shape-rendering:geometricPrecision" cx="185.6" cy="603" r="4.6" fill="#ff0000" />
<circle style="shape-rendering:geometricPrecision" cx="361.25" cy="603.5" r="4.6" fill="#ff0000" />
<circle style="shape-rendering:geometricPrecision" cx="552.75" cy="621" r="4.6" fill="#ff0000" />
<circle style="shape-rendering:geometricPrecision" cx="921.25" cy="470.6" r="4.6" fill="#ff0000" />
<circle style="shape-rendering:geometricPrecision" cx="1153" cy="153.5" r="4.6" fill="#ff0000" />
<circle style="shape-rendering:geometricPrecision" cx="1281.25" cy="73.5" r="4.6" fill="#ff0000" />
<circle style="shape-rendering:geometricPrecision" cx="169.4" cy="573" r="7.75" fill="#ff0000" />
<circle style="shape-rendering:geometricPrecision" cx="425.4" cy="600.75" r="7.75" fill="#ff0000" />
<circle style="shape-rendering:geometricPrecision" cx="537.5" cy="589.75" r="7.75" fill="#ff0000" />
<circle style="shape-rendering:geometricPrecision" cx="1313.5" cy="107.75" r="7.75" fill="#ff0000" />
<g transform="translate(1241,59) scale(1,1.25)">
<text x="0" y="-2" font-size="38" fill="#fff" font-family="DejaVu Sans" style="shape-rendering:geometricPrecision">✂</text>
</g>
<circle style="shape-rendering:geometricPrecision" cx="1423" cy="128" r="9.4" fill="#14140a" stroke="#fff" stroke-width="1"/>
<circle style="shape-rendering:geometricPrecision" cx="1452" cy="56.5" r="9.4" fill="#14140a" stroke="#fff" stroke-width="1"/>
<g class="aa" style="shape-rendering:geometricPrecision"><path d="M1424.5 125L1450.5 60" stroke="#00ff00" stroke-width="3" fill="none"/><path d="M1453.5 53L1453.5 63L1446 60Z" fill="#00ff00"/><path d="M1421.5 131L1421 122L1429 125Z" fill="#00ff00"/></g>
<rect x="1460.5" y="34.5" width="41" height="12" fill="#131722" stroke="#808080"/>
<rect x="1450" y="40" width="10" height="1" fill="#808080" />
<text x="1462" y="44.5" font-size="11" fill="#858585" textLength="38" lengthAdjust="spacingAndGlyphs" >2612.42</text>
<rect x="1460.5" y="81.5" width="41" height="12" fill="#131722" stroke="#808080"/>
<rect x="1450" y="87" width="10" height="1" fill="#808080" />
<text x="1462" y="91.5" font-size="11" fill="#858585" textLength="38" lengthAdjust="spacingAndGlyphs" >2610.36</text>
<rect x="1460.5" y="172.5" width="41" height="12" fill="#131722" stroke="#808080"/>
<rect x="1450" y="178" width="10" height="1" fill="#808080" />
<text x="1462" y="182.5" font-size="11" fill="#858585" textLength="38" lengthAdjust="spacingAndGlyphs" >2606.28</text>
<rect x="1460.5" y="621.5" width="41" height="12" fill="#131722" stroke="#808080"/>
<rect x="1450" y="627" width="10" height="1" fill="#808080" />
<text x="1462" y="631.5" font-size="11" fill="#858585" textLength="38" lengthAdjust="spacingAndGlyphs" >2586.37</text>
<rect x="1423" y="0" width="4" height="681" fill="#ffffff" />
<rect x="1421" y="0" width="8" height="4" fill="#ffffff" />
<rect x="1421" y="675" width="8" height="6" fill="#ffffff" />
<path class="aa" d="M1455 0L1460 5L1465 0Z" fill="#fff"/>
<rect x="276" y="661" width="100" height="20" fill="#b4b4b4" />
<rect x="277" y="662" width="98" height="1" fill="#e0e0e0" />
<rect x="277" y="679" width="98" height="1" fill="#808080" />
<text x="283" y="674.5" font-size="10" fill="#111" font-weight="bold" textLength="81" lengthAdjust="spacingAndGlyphs" >imbalance (FVG)</text>
<rect class="aa" x="3" y="668" width="10" height="10" rx="2" fill="#b0b0b0"/>
<rect x="7" y="671" width="1" height="5" fill="#777" />
<rect x="5" y="670" width="5" height="1" fill="#777" />
</g>
<path class="aa" d="M4 10L7.5 5.5L11 10Z" fill="#fff"/>
<text x="16" y="11" font-size="11" fill="#fff" textLength="202" lengthAdjust="spacingAndGlyphs" >XAUUSD,M5  2610.36 2611.64 2610.27 2611.62</text>
<text x="233" y="11.5" font-size="12.5" fill="#7c7c7c" textLength="34" lengthAdjust="spacingAndGlyphs" >Friday</text>
<rect x="4" y="16" width="195" height="57" fill="#131722" />
<rect x="4" y="16" width="45" height="22" fill="url(#gb)" />
<rect x="152" y="16" width="45" height="22" fill="url(#gb)" />
<rect x="4" y="38" width="96" height="34" fill="url(#gp)" />
<rect x="102" y="38" width="95" height="34" fill="url(#gp)" />
<rect x="8" y="37" width="38" height="1" fill="#8080ff" />
<rect x="155" y="37" width="38" height="1" fill="#8080ff" />
<text x="14" y="30.5" font-size="12" fill="#fff" textLength="24" lengthAdjust="spacingAndGlyphs" >SELL</text>
<text x="162" y="30.5" font-size="12" fill="#fff" textLength="22" lengthAdjust="spacingAndGlyphs" >BUY</text>
<rect x="52" y="16" width="98" height="21" fill="#a0a0a0" />
<rect x="53" y="17" width="18" height="19" fill="#e1e1e1" />
<rect x="72" y="17" width="57" height="19" fill="#ffffff" />
<rect x="130" y="17" width="19" height="19" fill="#e1e1e1" />
<path class="aa" d="M59 24h6l-3 3.5z" fill="#000"/><path class="aa" d="M136 27.5h6l-3-3.5z" fill="#000"/>
<text x="125" y="30.5" font-size="12" fill="#222" text-anchor="end" >0.10</text>
<text x="20" y="65.5" font-size="12" fill="#fff" font-weight="bold" textLength="27" lengthAdjust="spacingAndGlyphs" >2611</text>
<text x="53" y="65.5" font-size="30" fill="#fff" textLength="32" lengthAdjust="spacingAndGlyphs" >62</text>
<text x="118" y="65.5" font-size="12" fill="#fff" font-weight="bold" textLength="27" lengthAdjust="spacingAndGlyphs" >2611</text>
<text x="150" y="65.5" font-size="30" fill="#fff" textLength="32" lengthAdjust="spacingAndGlyphs" >75</text>
<g fill="none" stroke-width="1"><path d="M13 79.5H25.5V98.5H6.5V83" stroke="#0000ff"/><rect x="31.5" y="79.5" width="19" height="19" stroke="#0000ff" stroke-dasharray="3,3"/><path d="M61 79.5H75.5V98.5H56.5V83" stroke="#ff0000"/><rect x="81.5" y="79.5" width="19" height="19" stroke="#ff0000" stroke-dasharray="3,3"/></g>
<rect x="107" y="80" width="18" height="18" fill="#6495ed" />
<rect x="132" y="80" width="18" height="18" fill="#cd5c5c" />
<rect x="157" y="80" width="18" height="18" fill="#4169e1" />
<rect x="182" y="80" width="18" height="18" fill="#dc143c" />
<rect x="207" y="80" width="18" height="4" fill="#000" />
<rect x="207" y="95" width="18" height="4" fill="#fff" />
<rect x="232" y="80" width="18" height="4" fill="#0000ff" />
<rect x="232" y="95" width="18" height="4" fill="#ff0000" />
<path d="M1 96.5H252" stroke="#00bfff" stroke-width="1" fill="none" stroke-dasharray="3,3" stroke-dashoffset="0" />
<g clip-path="url(#ci)">
<path d="M1 740.5H1641" stroke="#ba55d3" stroke-width="1" fill="none" stroke-dasharray="3,3" stroke-dashoffset="0" />
<path d="M1 784.5H1641" stroke="#ba55d3" stroke-width="1" fill="none" stroke-dasharray="3,3" stroke-dashoffset="0" />
<path d="M1 829.5H1641" stroke="#ba55d3" stroke-width="1" fill="none" stroke-dasharray="3,3" stroke-dashoffset="0" />
<path d="M1 799.5H1449" stroke="#808080" stroke-width="1" fill="none" stroke-dasharray="18,6" stroke-dashoffset="0" />
<rect x="1" y="835" width="1448" height="1.5" fill="#32cd32" />
<path d="M225.5 684V843" stroke="#c0c0c0" stroke-width="1" fill="none" stroke-dasharray="4,2" stroke-dashoffset="0" />
<path d="M1441.5 684V843" stroke="#000000" stroke-width="1" fill="none" stroke-dasharray="3,3" stroke-dashoffset="0" opacity="0.8"/>
<polyline class="aa" points="0,700.6 38,700.6 126,701.5 166,705 224.6,710 273,713.6 310,716.4 381.5,717 443,718 501,719 575,721 646,723 736,724.7 780,725.6 790,726.4 861.5,727 900,727.6 1449,727.6" stroke="#ff0000" stroke-width="1" fill="none" stroke-linejoin="round" stroke-linecap="butt" />
<polyline class="aa" points="0,755 24,755 24,755 150,755 260,756.7 326.5,757 376.5,758.5 426,760.5 476,762 520,763.5 561.6,765.8 602,767 602,767 644.8,765.8 669.7,765.5 686,764.4 703,764 719.6,762.5 744.6,760.5 769.5,759.7 780,758.5 830,755.5 873,752.5 929.7,747 979.6,742 1013,735.6 1039.5,731.4 1073,725.6 1106.5,719.8 1140,714.8 1173,709.8 1206.4,705.6 1256,699.8 1289.6,697.6 1313,697 1366.5,694.3 1424.8,692.3 1449.7,692.3" stroke="#000000" stroke-width="5" fill="none" stroke-linejoin="round" stroke-linecap="butt" />
<polyline class="aa" points="0,755 24,755" stroke="#ffffff" stroke-width="3" fill="none" stroke-linejoin="round" stroke-linecap="butt" />
<polyline class="aa" points="24,755 150,755 260,756.7 326.5,757 376.5,758.5 426,760.5 476,762 520,763.5 561.6,765.8 602,767" stroke="#ff0000" stroke-width="3" fill="none" stroke-linejoin="round" stroke-linecap="butt" />
<polyline class="aa" points="602,767 644.8,765.8 669.7,765.5 686,764.4 703,764 719.6,762.5 744.6,760.5 769.5,759.7 780,758.5 830,755.5 873,752.5 929.7,747 979.6,742 1013,735.6 1039.5,731.4 1073,725.6 1106.5,719.8 1140,714.8 1173,709.8 1206.4,705.6 1256,699.8 1289.6,697.6 1313,697 1366.5,694.3 1424.8,692.3 1449.7,692.3" stroke="#ffffff" stroke-width="3" fill="none" stroke-linejoin="round" stroke-linecap="butt" />
<polyline class="aa" points="0,795 16.6,793 16.6,793 33,797 50,805 66.5,814 83,820 97.5,825.6 97.5,825.6 116.5,812 133,790.6 145,772 153,765.6 161.5,760 161.5,760 166.5,761.5 175,767 183,777 200,787 216.5,797 226.5,802 243,802.5 243,802.5 258,797 273,785.6 276.6,782 293,774 318,759.7 326.5,754 330,753 330,753 343,761 360,770.5 376.5,779.7 393,787 410,790.5 418,793 426,799 433,804.6 443,807.5 443,807.5 451,805.5 460,799 469.6,787 479.6,769 493,750.5 503.7,737 503.7,737 509.5,736.4 519.5,738 529.5,742 538,752 546.6,765.5 553,775.5 560,781 570,784.6 570,784.6 578,783 590,779.7 603,772 615,762 628,749.7 640,743 653,741.4 663,735.6 673,731.4 679.7,729.7 679.7,729.7 686,729.7 699,731 699,731 704.6,731 704.6,731 719.6,733 736,737 753,740.6 762,742.5 762,742.5 769.5,743 769.5,743 779.5,746.4 788,752 796.6,760.5 813,765.5 830,769 835,769 835,769 846.5,765.5 863,759.7 875,757 875,757 896.5,757 906.5,762 918,770.5 929.7,777 939,778 939,778 946,774.7 963,764 979.6,750.5 996,730.6 1009.6,717 1029.6,707 1040.4,699.8 1040.4,699.8 1046,701.5 1056.6,705.6 1066.6,707.3 1066.6,707.3 1073,705.6 1090,699 1106.5,694 1116.5,692.3 1116.5,692.3 1123,692.3 1133,695.6 1143,701.5 1153,710.6 1160,722 1170,732 1181.4,740.6 1194.7,747 1206.4,754 1213,757 1219,757 1219,757 1231,750.5 1243,739 1253,728 1258,724 1263,723.6 1263,723.6 1273,725.6 1286,734 1298,745.5 1306,755.5 1313,765.5 1325,782 1341.6,807 1355,825.4 1365,833.7 1365,833.7 1373,832 1383,823.7 1393,812 1403,802 1416.5,793.8 1426.4,786.3 1436.4,778.8 1446.4,763.8 1449,760" stroke="#000000" stroke-width="6.5" fill="none" stroke-linejoin="round" stroke-linecap="butt" />
<polyline class="aa" points="0,795 16.6,793" stroke="#ffffff" stroke-width="4.5" fill="none" stroke-linejoin="round" stroke-linecap="butt" stroke-linecap="round"/>
<polyline class="aa" points="16.6,793 33,797 50,805 66.5,814 83,820 97.5,825.6" stroke="#ff0000" stroke-width="4.5" fill="none" stroke-linejoin="round" stroke-linecap="butt" stroke-linecap="round"/>
<polyline class="aa" points="97.5,825.6 116.5,812 133,790.6 145,772 153,765.6 161.5,760" stroke="#ffffff" stroke-width="4.5" fill="none" stroke-linejoin="round" stroke-linecap="butt" stroke-linecap="round"/>
<polyline class="aa" points="161.5,760 166.5,761.5 175,767 183,777 200,787 216.5,797 226.5,802 243,802.5" stroke="#ff0000" stroke-width="4.5" fill="none" stroke-linejoin="round" stroke-linecap="butt" stroke-linecap="round"/>
<polyline class="aa" points="243,802.5 258,797 273,785.6 276.6,782 293,774 318,759.7 326.5,754 330,753" stroke="#ffffff" stroke-width="4.5" fill="none" stroke-linejoin="round" stroke-linecap="butt" stroke-linecap="round"/>
<polyline class="aa" points="330,753 343,761 360,770.5 376.5,779.7 393,787 410,790.5 418,793 426,799 433,804.6 443,807.5" stroke="#ff0000" stroke-width="4.5" fill="none" stroke-linejoin="round" stroke-linecap="butt" stroke-linecap="round"/>
<polyline class="aa" points="443,807.5 451,805.5 460,799 469.6,787 479.6,769 493,750.5 503.7,737" stroke="#ffffff" stroke-width="4.5" fill="none" stroke-linejoin="round" stroke-linecap="butt" stroke-linecap="round"/>
<polyline class="aa" points="503.7,737 509.5,736.4 519.5,738 529.5,742 538,752 546.6,765.5 553,775.5 560,781 570,784.6" stroke="#ff0000" stroke-width="4.5" fill="none" stroke-linejoin="round" stroke-linecap="butt" stroke-linecap="round"/>
<polyline class="aa" points="570,784.6 578,783 590,779.7 603,772 615,762 628,749.7 640,743 653,741.4 663,735.6 673,731.4 679.7,729.7" stroke="#ffffff" stroke-width="4.5" fill="none" stroke-linejoin="round" stroke-linecap="butt" stroke-linecap="round"/>
<polyline class="aa" points="679.7,729.7 686,729.7 699,731" stroke="#ff0000" stroke-width="4.5" fill="none" stroke-linejoin="round" stroke-linecap="butt" stroke-linecap="round"/>
<polyline class="aa" points="699,731 704.6,731" stroke="#ffffff" stroke-width="4.5" fill="none" stroke-linejoin="round" stroke-linecap="butt" stroke-linecap="round"/>
<polyline class="aa" points="704.6,731 719.6,733 736,737 753,740.6 762,742.5" stroke="#ff0000" stroke-width="4.5" fill="none" stroke-linejoin="round" stroke-linecap="butt" stroke-linecap="round"/>
<polyline class="aa" points="762,742.5 769.5,743" stroke="#ffffff" stroke-width="4.5" fill="none" stroke-linejoin="round" stroke-linecap="butt" stroke-linecap="round"/>
<polyline class="aa" points="769.5,743 779.5,746.4 788,752 796.6,760.5 813,765.5 830,769 835,769" stroke="#ff0000" stroke-width="4.5" fill="none" stroke-linejoin="round" stroke-linecap="butt" stroke-linecap="round"/>
<polyline class="aa" points="835,769 846.5,765.5 863,759.7 875,757" stroke="#ffffff" stroke-width="4.5" fill="none" stroke-linejoin="round" stroke-linecap="butt" stroke-linecap="round"/>
<polyline class="aa" points="875,757 896.5,757 906.5,762 918,770.5 929.7,777 939,778" stroke="#ff0000" stroke-width="4.5" fill="none" stroke-linejoin="round" stroke-linecap="butt" stroke-linecap="round"/>
<polyline class="aa" points="939,778 946,774.7 963,764 979.6,750.5 996,730.6 1009.6,717 1029.6,707 1040.4,699.8" stroke="#ffffff" stroke-width="4.5" fill="none" stroke-linejoin="round" stroke-linecap="butt" stroke-linecap="round"/>
<polyline class="aa" points="1040.4,699.8 1046,701.5 1056.6,705.6 1066.6,707.3" stroke="#ff0000" stroke-width="4.5" fill="none" stroke-linejoin="round" stroke-linecap="butt" stroke-linecap="round"/>
<polyline class="aa" points="1066.6,707.3 1073,705.6 1090,699 1106.5,694 1116.5,692.3" stroke="#ffffff" stroke-width="4.5" fill="none" stroke-linejoin="round" stroke-linecap="butt" stroke-linecap="round"/>
<polyline class="aa" points="1116.5,692.3 1123,692.3 1133,695.6 1143,701.5 1153,710.6 1160,722 1170,732 1181.4,740.6 1194.7,747 1206.4,754 1213,757 1219,757" stroke="#ff0000" stroke-width="4.5" fill="none" stroke-linejoin="round" stroke-linecap="butt" stroke-linecap="round"/>
<polyline class="aa" points="1219,757 1231,750.5 1243,739 1253,728 1258,724 1263,723.6" stroke="#ffffff" stroke-width="4.5" fill="none" stroke-linejoin="round" stroke-linecap="butt" stroke-linecap="round"/>
<polyline class="aa" points="1263,723.6 1273,725.6 1286,734 1298,745.5 1306,755.5 1313,765.5 1325,782 1341.6,807 1355,825.4 1365,833.7" stroke="#ff0000" stroke-width="4.5" fill="none" stroke-linejoin="round" stroke-linecap="butt" stroke-linecap="round"/>
<polyline class="aa" points="1365,833.7 1373,832 1383,823.7 1393,812 1403,802 1416.5,793.8 1426.4,786.3 1436.4,778.8 1446.4,763.8 1449,760" stroke="#ffffff" stroke-width="4.5" fill="none" stroke-linejoin="round" stroke-linecap="butt" stroke-linecap="round"/>
<rect x="1" y="784" width="1" height="7" fill="#ffffff" />
<rect x="9" y="784" width="1" height="7" fill="#ffffff" />
<rect x="17" y="784" width="1" height="7" fill="#ffffff" />
<rect x="23" y="784" width="5" height="8" fill="#ff0000" />
<rect x="31" y="784" width="5" height="11.6" fill="#ff0000" />
<rect x="39" y="784" width="5" height="15" fill="#ff0000" />
<rect x="47" y="784" width="5" height="18" fill="#ff0000" />
<rect x="55" y="784" width="5" height="22.5" fill="#ff0000" />
<rect x="63" y="784" width="5" height="27.5" fill="#ff0000" />
<rect x="71" y="784" width="5" height="30" fill="#ff0000" />
<rect x="79" y="784" width="5" height="33" fill="#ff0000" />
<rect x="87" y="784" width="5" height="36.6" fill="#ff0000" />
<rect x="95" y="784" width="5" height="40" fill="#ff0000" />
<rect x="105" y="784" width="1" height="33" fill="#ffffff" />
<rect x="113" y="784" width="1" height="25" fill="#ffffff" />
<rect x="121" y="784" width="1" height="15" fill="#ffffff" />
<rect x="129" y="784" width="1" height="3" fill="#ffffff" />
<rect x="135" y="772" width="5" height="12" fill="#b9bdc6" />
<rect x="143" y="763" width="5" height="21" fill="#b9bdc6" />
<rect x="151" y="760" width="5" height="24" fill="#b9bdc6" />
<rect x="159" y="757" width="5" height="27" fill="#b9bdc6" />
<rect x="169" y="764" width="1" height="20" fill="#ff0000" />
<rect x="177" y="779" width="1" height="5" fill="#ff0000" />
<rect x="183" y="784" width="5" height="10" fill="#ff0000" />
<rect x="191" y="784" width="5" height="20" fill="#ff0000" />
<rect x="199" y="784" width="5" height="26.6" fill="#ff0000" />
<rect x="207" y="784" width="5" height="33" fill="#ff0000" />
<rect x="215" y="784" width="5" height="37.5" fill="#ff0000" />
<rect x="223" y="784" width="5" height="38" fill="#ff0000" />
<rect x="233" y="784" width="1" height="36" fill="#ffffff" />
<rect x="241" y="784" width="1" height="31.6" fill="#ffffff" />
<rect x="249" y="784" width="1" height="21.6" fill="#ffffff" />
<rect x="257" y="784" width="1" height="10" fill="#ffffff" />
<rect x="263" y="781" width="5" height="3" fill="#b9bdc6" />
<rect x="271" y="766" width="5" height="18" fill="#b9bdc6" />
<rect x="279" y="757" width="5" height="27" fill="#b9bdc6" />
<rect x="287" y="751" width="5" height="33" fill="#b9bdc6" />
<rect x="295" y="746" width="5" height="38" fill="#b9bdc6" />
<rect x="303" y="740.6" width="5" height="43.4" fill="#b9bdc6" />
<rect x="311" y="734" width="5" height="50" fill="#b9bdc6" />
<rect x="319" y="730.6" width="5" height="53.4" fill="#b9bdc6" />
<rect x="329" y="731.5" width="1" height="52.5" fill="#ff0000" />
<rect x="337" y="735.6" width="1" height="48.4" fill="#ff0000" />
<rect x="345" y="745.5" width="1" height="38.5" fill="#ff0000" />
<rect x="353" y="757" width="1" height="27" fill="#ff0000" />
<rect x="361" y="765.5" width="1" height="18.5" fill="#ff0000" />
<rect x="369" y="771" width="1" height="13" fill="#ff0000" />
<rect x="377" y="775.5" width="1" height="8.5" fill="#ff0000" />
<rect x="385" y="779" width="1" height="5" fill="#ff0000" />
<rect x="393" y="780.5" width="1" height="3.5" fill="#ff0000" />
<rect x="401" y="781" width="1" height="3" fill="#ff0000" />
<rect x="407" y="780" width="5" height="4" fill="#b9bdc6" />
<rect x="417" y="782" width="1" height="2" fill="#ff0000" />
<rect x="423" y="784" width="5" height="2" fill="#ff0000" />
<rect x="431" y="784" width="5" height="8" fill="#ff0000" />
<rect x="439" y="784" width="5" height="8" fill="#ff0000" />
<rect x="449" y="784" width="1" height="6.5" fill="#ffffff" />
<rect x="457" y="784" width="1" height="2" fill="#ffffff" />
<rect x="463" y="782" width="5" height="2" fill="#b9bdc6" />
<rect x="471" y="777" width="5" height="7" fill="#b9bdc6" />
<rect x="479" y="769" width="5" height="15" fill="#b9bdc6" />
<rect x="487" y="764.7" width="5" height="19.3" fill="#b9bdc6" />
<rect x="495" y="761" width="5" height="23" fill="#b9bdc6" />
<rect x="503" y="759.7" width="5" height="24.3" fill="#b9bdc6" />
<rect x="513" y="765.5" width="1" height="18.5" fill="#ff0000" />
<rect x="521" y="771" width="1" height="13" fill="#ff0000" />
<rect x="529" y="774.7" width="1" height="9.3" fill="#ff0000" />
<rect x="535" y="784" width="5" height="4" fill="#ff0000" />
<rect x="543" y="784" width="5" height="15" fill="#ff0000" />
<rect x="551" y="784" width="5" height="24.5" fill="#ff0000" />
<rect x="561" y="784" width="1" height="20" fill="#ffffff" />
<rect x="569" y="784" width="1" height="15.6" fill="#ffffff" />
<rect x="577" y="784" width="1" height="6.5" fill="#ffffff" />
<rect x="585" y="784" width="1" height="2" fill="#ffffff" />
<rect x="593" y="784" width="1" height="0.5" fill="#ffffff" />
<rect x="599" y="777" width="5" height="7" fill="#b9bdc6" />
<rect x="607" y="770.5" width="5" height="13.5" fill="#b9bdc6" />
<rect x="615" y="764" width="5" height="20" fill="#b9bdc6" />
<rect x="623" y="757" width="5" height="27" fill="#b9bdc6" />
<rect x="631" y="752" width="5" height="32" fill="#b9bdc6" />
<rect x="639" y="750.5" width="5" height="33.5" fill="#b9bdc6" />
<rect x="649" y="752" width="1" height="32" fill="#ff0000" />
<rect x="655" y="746" width="5" height="38" fill="#b9bdc6" />
<rect x="663" y="739" width="5" height="45" fill="#b9bdc6" />
<rect x="671" y="735.5" width="5" height="48.5" fill="#b9bdc6" />
<rect x="679" y="733" width="5" height="51" fill="#b9bdc6" />
<rect x="689" y="734.7" width="1" height="49.3" fill="#ff0000" />
<rect x="697" y="737.6" width="1" height="46.4" fill="#ff0000" />
<rect x="703" y="736.4" width="5" height="47.6" fill="#b9bdc6" />
<rect x="713" y="739" width="1" height="45" fill="#ff0000" />
<rect x="721" y="743" width="1" height="41" fill="#ff0000" />
<rect x="729" y="748" width="1" height="36" fill="#ff0000" />
<rect x="737" y="752" width="1" height="32" fill="#ff0000" />
<rect x="745" y="755.5" width="1" height="28.5" fill="#ff0000" />
<rect x="753" y="758" width="1" height="26" fill="#ff0000" />
<rect x="761" y="759.7" width="1" height="24.3" fill="#ff0000" />
<rect x="769" y="762" width="1" height="22" fill="#ff0000" />
<rect x="777" y="765.5" width="1" height="18.5" fill="#ff0000" />
<rect x="785" y="770.5" width="1" height="13.5" fill="#ff0000" />
<rect x="793" y="775.5" width="1" height="8.5" fill="#ff0000" />
<rect x="801" y="775.5" width="1" height="8.5" fill="#ff0000" />
<rect x="809" y="778.5" width="1" height="5.5" fill="#ff0000" />
<rect x="815" y="778" width="5" height="6" fill="#b9bdc6" />
<rect x="825" y="778.5" width="1" height="5.5" fill="#ff0000" />
<rect x="831" y="777" width="5" height="7" fill="#b9bdc6" />
<rect x="839" y="771" width="5" height="13" fill="#b9bdc6" />
<rect x="847" y="764.7" width="5" height="19.3" fill="#b9bdc6" />
<rect x="855" y="760.5" width="5" height="23.5" fill="#b9bdc6" />
<rect x="863" y="755.5" width="5" height="28.5" fill="#b9bdc6" />
<rect x="871" y="752" width="5" height="32" fill="#b9bdc6" />
<rect x="881" y="753" width="1" height="31" fill="#ff0000" />
<rect x="887" y="753" width="5" height="31" fill="#b9bdc6" />
<rect x="897" y="754.7" width="1" height="29.3" fill="#ff0000" />
<rect x="905" y="760.5" width="1" height="23.5" fill="#ff0000" />
<rect x="913" y="769" width="1" height="15" fill="#ff0000" />
<rect x="921" y="776" width="1" height="8" fill="#ff0000" />
<rect x="929" y="782" width="1" height="2" fill="#ff0000" />
<rect x="937" y="784" width="1" height="0" fill="#ff0000" />
<rect x="943" y="779.6" width="5" height="4.4" fill="#b9bdc6" />
<rect x="951" y="774.7" width="5" height="9.3" fill="#b9bdc6" />
<rect x="959" y="770.5" width="5" height="13.5" fill="#b9bdc6" />
<rect x="967" y="766" width="5" height="18" fill="#b9bdc6" />
<rect x="975" y="764" width="5" height="20" fill="#b9bdc6" />
<rect x="983" y="761" width="5" height="23" fill="#b9bdc6" />
<rect x="991" y="749" width="5" height="35" fill="#b9bdc6" />
<rect x="999" y="735.5" width="5" height="48.5" fill="#b9bdc6" />
<rect x="1007" y="727" width="5" height="57" fill="#b9bdc6" />
<rect x="1015" y="724.7" width="5" height="59.3" fill="#b9bdc6" />
<rect x="1023" y="722" width="5" height="62" fill="#b9bdc6" />
<rect x="1031" y="718" width="5" height="66" fill="#b9bdc6" />
<rect x="1039" y="714.4" width="5" height="69.6" fill="#b9bdc6" />
<rect x="1049" y="721.4" width="1" height="62.6" fill="#ff0000" />
<rect x="1057" y="724" width="1" height="60" fill="#ff0000" />
<rect x="1063" y="718" width="5" height="66" fill="#b9bdc6" />
<rect x="1071" y="707.3" width="5" height="76.7" fill="#b9bdc6" />
<rect x="1079" y="699.8" width="5" height="84.2" fill="#b9bdc6" />
<rect x="1087" y="696.5" width="5" height="87.5" fill="#b9bdc6" />
<rect x="1095" y="693.6" width="5" height="90.4" fill="#b9bdc6" />
<rect x="1103" y="692.3" width="5" height="91.7" fill="#b9bdc6" />
<rect x="1113" y="695.6" width="1" height="88.4" fill="#ff0000" />
<rect x="1121" y="699.8" width="1" height="84.2" fill="#ff0000" />
<rect x="1129" y="706.5" width="1" height="77.5" fill="#ff0000" />
<rect x="1137" y="714.8" width="1" height="69.2" fill="#ff0000" />
<rect x="1145" y="723" width="1" height="61" fill="#ff0000" />
<rect x="1153" y="734" width="1" height="50" fill="#ff0000" />
<rect x="1161" y="747" width="1" height="37" fill="#ff0000" />
<rect x="1169" y="755.5" width="1" height="28.5" fill="#ff0000" />
<rect x="1177" y="760.5" width="1" height="23.5" fill="#ff0000" />
<rect x="1185" y="764.7" width="1" height="19.3" fill="#ff0000" />
<rect x="1193" y="766.4" width="1" height="17.6" fill="#ff0000" />
<rect x="1201" y="770.5" width="1" height="13.5" fill="#ff0000" />
<rect x="1209" y="773.8" width="1" height="10.2" fill="#ff0000" />
<rect x="1215" y="772" width="5" height="12" fill="#b9bdc6" />
<rect x="1223" y="766.4" width="5" height="17.6" fill="#b9bdc6" />
<rect x="1231" y="758" width="5" height="26" fill="#b9bdc6" />
<rect x="1239" y="747" width="5" height="37" fill="#b9bdc6" />
<rect x="1247" y="737" width="5" height="47" fill="#b9bdc6" />
<rect x="1255" y="730.6" width="5" height="53.4" fill="#b9bdc6" />
<rect x="1265" y="733" width="1" height="51" fill="#ff0000" />
<rect x="1273" y="739.7" width="1" height="44.3" fill="#ff0000" />
<rect x="1281" y="746.4" width="1" height="37.6" fill="#ff0000" />
<rect x="1289" y="754" width="1" height="30" fill="#ff0000" />
<rect x="1297" y="762" width="1" height="22" fill="#ff0000" />
<rect x="1305" y="770.5" width="1" height="13.5" fill="#ff0000" />
<rect x="1313" y="780.5" width="1" height="3.5" fill="#ff0000" />
<rect x="1319" y="784" width="5" height="6.5" fill="#ff0000" />
<rect x="1327" y="784" width="5" height="18" fill="#ff0000" />
<rect x="1335" y="784" width="5" height="28" fill="#ff0000" />
<rect x="1343" y="784" width="5" height="38" fill="#ff0000" />
<rect x="1351" y="784" width="5" height="44.7" fill="#ff0000" />
<rect x="1359" y="784" width="5" height="50.5" fill="#ff0000" />
<rect x="1369" y="784" width="1" height="49" fill="#ffffff" />
<rect x="1377" y="784" width="1" height="41.4" fill="#ffffff" />
<rect x="1385" y="784" width="1" height="29.7" fill="#ffffff" />
<rect x="1393" y="784" width="1" height="18" fill="#ffffff" />
<rect x="1401" y="784" width="1" height="8" fill="#ffffff" />
<rect x="1409" y="784" width="1" height="4" fill="#ffffff" />
<rect x="1417" y="784" width="1" height="0.5" fill="#ffffff" />
<rect x="1423" y="774.7" width="5" height="9.3" fill="#b9bdc6" />
<rect x="1431" y="765.5" width="5" height="18.5" fill="#b9bdc6" />
<rect x="1439" y="758" width="5" height="26" fill="#b9bdc6" />
<rect x="1447" y="746" width="5" height="38" fill="#b9bdc6" />
<polyline class="aa" points="1.5,791 9.5,791 17.5,791 25.5,792 33.5,795.6 41.5,799 49.5,802 57.5,806.5 65.5,811.5 73.5,814 81.5,817 89.5,820.6 97.5,824 105.5,817 113.5,809 121.5,799 129.5,787 137.5,772 145.5,763 153.5,760 161.5,757 169.5,764 177.5,779 185.5,794 193.5,804 201.5,810.6 209.5,817 217.5,821.5 225.5,822 233.5,820 241.5,815.6 249.5,805.6 257.5,794 265.5,781 273.5,766 281.5,757 289.5,751 297.5,746 305.5,740.6 313.5,734 321.5,730.6 329.5,731.5 337.5,735.6 345.5,745.5 353.5,757 361.5,765.5 369.5,771 377.5,775.5 385.5,779 393.5,780.5 401.5,781 409.5,780 417.5,782 425.5,786 433.5,792 441.5,792 449.5,790.5 457.5,786 465.5,782 473.5,777 481.5,769 489.5,764.7 497.5,761 505.5,759.7 513.5,765.5 521.5,771 529.5,774.7 537.5,788 545.5,799 553.5,808.5 561.5,804 569.5,799.6 577.5,790.5 585.5,786 593.5,784.5 601.5,777 609.5,770.5 617.5,764 625.5,757 633.5,752 641.5,750.5 649.5,752 657.5,746 665.5,739 673.5,735.5 681.5,733 689.5,734.7 697.5,737.6 705.5,736.4 713.5,739 721.5,743 729.5,748 737.5,752 745.5,755.5 753.5,758 761.5,759.7 769.5,762 777.5,765.5 785.5,770.5 793.5,775.5 801.5,775.5 809.5,778.5 817.5,778 825.5,778.5 833.5,777 841.5,771 849.5,764.7 857.5,760.5 865.5,755.5 873.5,752 881.5,753 889.5,753 897.5,754.7 905.5,760.5 913.5,769 921.5,776 929.5,782 937.5,784 945.5,779.6 953.5,774.7 961.5,770.5 969.5,766 977.5,764 985.5,761 993.5,749 1001.5,735.5 1009.5,727 1017.5,724.7 1025.5,722 1033.5,718 1041.5,714.4 1049.5,721.4 1057.5,724 1065.5,718 1073.5,707.3 1081.5,699.8 1089.5,696.5 1097.5,693.6 1105.5,692.3 1113.5,695.6 1121.5,699.8 1129.5,706.5 1137.5,714.8 1145.5,723 1153.5,734 1161.5,747 1169.5,755.5 1177.5,760.5 1185.5,764.7 1193.5,766.4 1201.5,770.5 1209.5,773.8 1217.5,772 1225.5,766.4 1233.5,758 1241.5,747 1249.5,737 1257.5,730.6 1265.5,733 1273.5,739.7 1281.5,746.4 1289.5,754 1297.5,762 1305.5,770.5 1313.5,780.5 1321.5,790.5 1329.5,802 1337.5,812 1345.5,822 1353.5,828.7 1361.5,834.5 1369.5,833 1377.5,825.4 1385.5,813.7 1393.5,802 1401.5,792 1409.5,788 1417.5,784.5 1425.5,774.7 1433.5,765.5 1441.5,758 1449.5,746" stroke="#ffffff" stroke-width="1" fill="none" stroke-linejoin="round" stroke-linecap="butt" />
<path d="M1 740.5H1641" stroke="#ba55d3" stroke-width="1" fill="none" stroke-dasharray="3,3" stroke-dashoffset="0" />
<path d="M1 784.5H1641" stroke="#ba55d3" stroke-width="1" fill="none" stroke-dasharray="3,3" stroke-dashoffset="0" />
<rect x="1423" y="684" width="4" height="159" fill="#ffffff" />
</g>
<text x="11" y="696" font-size="10" fill="#fff" textLength="374" lengthAdjust="spacingAndGlyphs" >avgs oC M5 dz adx trend EMA smoothed (5) 0.1493 0.1493 0.1493 -0.1335 0.5557 0.2388</text>
<text x="391" y="696" font-size="10" fill="#fff" textLength="388" lengthAdjust="spacingAndGlyphs" >avgs oC H1 dz adx trend VWEMA smoothed (5) 0.6073 0.6073 0.6073 -0.1706 0.4167 0.0259</text>
<text x="785" y="696" font-size="10" fill="#fff" textLength="13" lengthAdjust="spacingAndGlyphs" >M5</text>
<text x="804" y="696" font-size="10" fill="#fff" textLength="100" lengthAdjust="spacingAndGlyphs" >blau tvi (8.00,8.00,4.00)</text>
<text x="910" y="696" font-size="10" fill="#fff" textLength="59" lengthAdjust="spacingAndGlyphs" >3.4056 3.4056</text>
<path d="M225.5 843V915" stroke="#c0c0c0" stroke-width="1" fill="none" stroke-dasharray="4,2" stroke-dashoffset="3" />
<rect x="1423" y="843" width="4" height="72" fill="#ffffff" />
<path d="M1441.5 843V915" stroke="#000000" stroke-width="1" fill="none" stroke-dasharray="3,3" stroke-dashoffset="3" opacity="0.8"/>
<rect x="1" y="846" width="4" height="20" fill="#b9bdc6" />
<rect x="6" y="846" width="7" height="20" fill="#e3394c" />
<rect x="14" y="846" width="7" height="20" fill="#e3394c" />
<rect x="22" y="846" width="7" height="20" fill="#e3394c" />
<rect x="30" y="846" width="7" height="20" fill="#e3394c" />
<rect x="38" y="846" width="7" height="20" fill="#e3394c" />
<rect x="46" y="846" width="7" height="20" fill="#e3394c" />
<rect x="54" y="846" width="7" height="20" fill="#e3394c" />
<rect x="62" y="846" width="7" height="20" fill="#e3394c" />
<rect x="70" y="846" width="7" height="20" fill="#e3394c" />
<rect x="78" y="846" width="7" height="20" fill="#e3394c" />
<rect x="86" y="846" width="7" height="20" fill="#e3394c" />
<rect x="94" y="846" width="7" height="20" fill="#e3394c" />
<rect x="102" y="846" width="7" height="20" fill="#b9bdc6" />
<rect x="110" y="846" width="7" height="20" fill="#b9bdc6" />
<rect x="118" y="846" width="7" height="20" fill="#b9bdc6" />
<rect x="126" y="846" width="7" height="20" fill="#b9bdc6" />
<rect x="134" y="846" width="7" height="20" fill="#b9bdc6" />
<rect x="142" y="846" width="7" height="20" fill="#b9bdc6" />
<rect x="150" y="846" width="7" height="20" fill="#e3394c" />
<rect x="158" y="846" width="7" height="20" fill="#b9bdc6" />
<rect x="166" y="846" width="7" height="20" fill="#e3394c" />
<rect x="174" y="846" width="7" height="20" fill="#e3394c" />
<rect x="182" y="846" width="7" height="20" fill="#e3394c" />
<rect x="190" y="846" width="7" height="20" fill="#e3394c" />
<rect x="198" y="846" width="7" height="20" fill="#b9bdc6" />
<rect x="206" y="846" width="7" height="20" fill="#e3394c" />
<rect x="214" y="846" width="7" height="20" fill="#b9bdc6" />
<rect x="222" y="846" width="7" height="20" fill="#b9bdc6" />
<rect x="230" y="846" width="7" height="20" fill="#b9bdc6" />
<rect x="238" y="846" width="7" height="20" fill="#b9bdc6" />
<rect x="246" y="846" width="7" height="20" fill="#b9bdc6" />
<rect x="254" y="846" width="7" height="20" fill="#b9bdc6" />
<rect x="262" y="846" width="7" height="20" fill="#b9bdc6" />
<rect x="270" y="846" width="7" height="20" fill="#b9bdc6" />
<rect x="278" y="846" width="7" height="20" fill="#b9bdc6" />
<rect x="286" y="846" width="7" height="20" fill="#b9bdc6" />
<rect x="294" y="846" width="7" height="20" fill="#b9bdc6" />
<rect x="302" y="846" width="7" height="20" fill="#b9bdc6" />
<rect x="310" y="846" width="7" height="20" fill="#b9bdc6" />
<rect x="318" y="846" width="7" height="20" fill="#b9bdc6" />
<rect x="326" y="846" width="7" height="20" fill="#b9bdc6" />
<rect x="334" y="846" width="7" height="20" fill="#b9bdc6" />
<rect x="342" y="846" width="7" height="20" fill="#e3394c" />
<rect x="350" y="846" width="7" height="20" fill="#b9bdc6" />
<rect x="358" y="846" width="7" height="20" fill="#e3394c" />
<rect x="366" y="846" width="7" height="20" fill="#b9bdc6" />
<rect x="374" y="846" width="7" height="20" fill="#b9bdc6" />
<rect x="382" y="846" width="7" height="20" fill="#b9bdc6" />
<rect x="390" y="846" width="7" height="20" fill="#b9bdc6" />
<rect x="398" y="846" width="7" height="20" fill="#b9bdc6" />
<rect x="406" y="846" width="7" height="20" fill="#b9bdc6" />
<rect x="414" y="846" width="7" height="20" fill="#e3394c" />
<rect x="422" y="846" width="7" height="20" fill="#e3394c" />
<rect x="430" y="846" width="7" height="20" fill="#e3394c" />
<rect x="438" y="846" width="7" height="20" fill="#b9bdc6" />
<rect x="446" y="846" width="7" height="20" fill="#b9bdc6" />
<rect x="454" y="846" width="7" height="20" fill="#b9bdc6" />
<rect x="462" y="846" width="7" height="20" fill="#b9bdc6" />
<rect x="470" y="846" width="7" height="20" fill="#b9bdc6" />
<rect x="478" y="846" width="7" height="20" fill="#b9bdc6" />
<rect x="486" y="846" width="7" height="20" fill="#b9bdc6" />
<rect x="494" y="846" width="7" height="20" fill="#b9bdc6" />
<rect x="502" y="846" width="7" height="20" fill="#b9bdc6" />
<rect x="510" y="846" width="7" height="20" fill="#e3394c" />
<rect x="518" y="846" width="7" height="20" fill="#e3394c" />
<rect x="526" y="846" width="7" height="20" fill="#b9bdc6" />
<rect x="534" y="846" width="7" height="20" fill="#e3394c" />
<rect x="542" y="846" width="7" height="20" fill="#e3394c" />
<rect x="550" y="846" width="7" height="20" fill="#e3394c" />
<rect x="558" y="846" width="7" height="20" fill="#b9bdc6" />
<rect x="566" y="846" width="7" height="20" fill="#b9bdc6" />
<rect x="574" y="846" width="7" height="20" fill="#b9bdc6" />
<rect x="582" y="846" width="7" height="20" fill="#e3394c" />
<rect x="590" y="846" width="7" height="20" fill="#b9bdc6" />
<rect x="598" y="846" width="7" height="20" fill="#b9bdc6" />
<rect x="606" y="846" width="7" height="20" fill="#b9bdc6" />
<rect x="614" y="846" width="7" height="20" fill="#b9bdc6" />
<rect x="622" y="846" width="7" height="20" fill="#b9bdc6" />
<rect x="630" y="846" width="7" height="20" fill="#b9bdc6" />
<rect x="638" y="846" width="7" height="20" fill="#b9bdc6" />
<rect x="646" y="846" width="7" height="20" fill="#b9bdc6" />
<rect x="654" y="846" width="7" height="20" fill="#b9bdc6" />
<rect x="662" y="846" width="7" height="20" fill="#b9bdc6" />
<rect x="670" y="846" width="7" height="20" fill="#b9bdc6" />
<rect x="678" y="846" width="7" height="20" fill="#b9bdc6" />
<rect x="686" y="846" width="7" height="20" fill="#b9bdc6" />
<rect x="694" y="846" width="7" height="20" fill="#b9bdc6" />
<rect x="702" y="846" width="7" height="20" fill="#b9bdc6" />
<rect x="710" y="846" width="7" height="20" fill="#b9bdc6" />
<rect x="718" y="846" width="7" height="20" fill="#e3394c" />
<rect x="726" y="846" width="7" height="20" fill="#b9bdc6" />
<rect x="734" y="846" width="7" height="20" fill="#b9bdc6" />
<rect x="742" y="846" width="7" height="20" fill="#b9bdc6" />
<rect x="750" y="846" width="7" height="20" fill="#b9bdc6" />
<rect x="758" y="846" width="7" height="20" fill="#b9bdc6" />
<rect x="766" y="846" width="7" height="20" fill="#b9bdc6" />
<rect x="774" y="846" width="7" height="20" fill="#e3394c" />
<rect x="782" y="846" width="7" height="20" fill="#e3394c" />
<rect x="790" y="846" width="7" height="20" fill="#e3394c" />
<rect x="798" y="846" width="7" height="20" fill="#b9bdc6" />
<rect x="806" y="846" width="7" height="20" fill="#e3394c" />
<rect x="814" y="846" width="7" height="20" fill="#b9bdc6" />
<rect x="822" y="846" width="7" height="20" fill="#e3394c" />
<rect x="830" y="846" width="7" height="20" fill="#b9bdc6" />
<rect x="838" y="846" width="7" height="20" fill="#b9bdc6" />
<rect x="846" y="846" width="7" height="20" fill="#b9bdc6" />
<rect x="854" y="846" width="7" height="20" fill="#e3394c" />
<rect x="862" y="846" width="7" height="20" fill="#b9bdc6" />
<rect x="870" y="846" width="7" height="20" fill="#b9bdc6" />
<rect x="878" y="846" width="7" height="20" fill="#e3394c" />
<rect x="886" y="846" width="7" height="20" fill="#b9bdc6" />
<rect x="894" y="846" width="7" height="20" fill="#e3394c" />
<rect x="902" y="846" width="7" height="20" fill="#e3394c" />
<rect x="910" y="846" width="7" height="20" fill="#e3394c" />
<rect x="918" y="846" width="7" height="20" fill="#e3394c" />
<rect x="926" y="846" width="7" height="20" fill="#b9bdc6" />
<rect x="934" y="846" width="7" height="20" fill="#b9bdc6" />
<rect x="942" y="846" width="7" height="20" fill="#b9bdc6" />
<rect x="950" y="846" width="7" height="20" fill="#b9bdc6" />
<rect x="958" y="846" width="7" height="20" fill="#b9bdc6" />
<rect x="966" y="846" width="7" height="20" fill="#b9bdc6" />
<rect x="974" y="846" width="7" height="20" fill="#b9bdc6" />
<rect x="982" y="846" width="7" height="20" fill="#b9bdc6" />
<rect x="990" y="846" width="7" height="20" fill="#b9bdc6" />
<rect x="998" y="846" width="7" height="20" fill="#b9bdc6" />
<rect x="1006" y="846" width="7" height="20" fill="#b9bdc6" />
<rect x="1014" y="846" width="7" height="20" fill="#b9bdc6" />
<rect x="1022" y="846" width="7" height="20" fill="#b9bdc6" />
<rect x="1030" y="846" width="7" height="20" fill="#b9bdc6" />
<rect x="1038" y="846" width="7" height="20" fill="#b9bdc6" />
<rect x="1046" y="846" width="7" height="20" fill="#e3394c" />
<rect x="1054" y="846" width="7" height="20" fill="#b9bdc6" />
<rect x="1062" y="846" width="7" height="20" fill="#b9bdc6" />
<rect x="1070" y="846" width="7" height="20" fill="#b9bdc6" />
<rect x="1078" y="846" width="7" height="20" fill="#b9bdc6" />
<rect x="1086" y="846" width="7" height="20" fill="#b9bdc6" />
<rect x="1094" y="846" width="7" height="20" fill="#b9bdc6" />
<rect x="1102" y="846" width="7" height="20" fill="#b9bdc6" />
<rect x="1110" y="846" width="7" height="20" fill="#b9bdc6" />
<rect x="1118" y="846" width="7" height="20" fill="#b9bdc6" />
<rect x="1126" y="846" width="7" height="20" fill="#e3394c" />
<rect x="1134" y="846" width="7" height="20" fill="#e3394c" />
<rect x="1142" y="846" width="7" height="20" fill="#b9bdc6" />
<rect x="1150" y="846" width="7" height="20" fill="#e3394c" />
<rect x="1158" y="846" width="7" height="20" fill="#e3394c" />
<rect x="1166" y="846" width="7" height="20" fill="#b9bdc6" />
<rect x="1174" y="846" width="7" height="20" fill="#b9bdc6" />
<rect x="1182" y="846" width="7" height="20" fill="#e3394c" />
<rect x="1190" y="846" width="7" height="20" fill="#b9bdc6" />
<rect x="1198" y="846" width="7" height="20" fill="#e3394c" />
<rect x="1206" y="846" width="7" height="20" fill="#e3394c" />
<rect x="1214" y="846" width="7" height="20" fill="#b9bdc6" />
<rect x="1222" y="846" width="7" height="20" fill="#b9bdc6" />
<rect x="1230" y="846" width="7" height="20" fill="#b9bdc6" />
<rect x="1238" y="846" width="7" height="20" fill="#b9bdc6" />
<rect x="1246" y="846" width="7" height="20" fill="#b9bdc6" />
<rect x="1254" y="846" width="7" height="20" fill="#b9bdc6" />
<rect x="1262" y="846" width="7" height="20" fill="#e3394c" />
<rect x="1270" y="846" width="7" height="20" fill="#e3394c" />
<rect x="1278" y="846" width="7" height="20" fill="#e3394c" />
<rect x="1286" y="846" width="7" height="20" fill="#e3394c" />
<rect x="1294" y="846" width="7" height="20" fill="#e3394c" />
<rect x="1302" y="846" width="7" height="20" fill="#e3394c" />
<rect x="1310" y="846" width="7" height="20" fill="#e3394c" />
<rect x="1318" y="846" width="7" height="20" fill="#e3394c" />
<rect x="1326" y="846" width="7" height="20" fill="#e3394c" />
<rect x="1334" y="846" width="7" height="20" fill="#e3394c" />
<rect x="1342" y="846" width="7" height="20" fill="#e3394c" />
<rect x="1350" y="846" width="7" height="20" fill="#e3394c" />
<rect x="1358" y="846" width="7" height="20" fill="#e3394c" />
<rect x="1366" y="846" width="7" height="20" fill="#e3394c" />
<rect x="1374" y="846" width="7" height="20" fill="#b9bdc6" />
<rect x="1382" y="846" width="7" height="20" fill="#b9bdc6" />
<rect x="1390" y="846" width="7" height="20" fill="#b9bdc6" />
<rect x="1398" y="846" width="7" height="20" fill="#b9bdc6" />
<rect x="1406" y="846" width="7" height="20" fill="#e3394c" />
<rect x="1414" y="846" width="7" height="20" fill="#b9bdc6" />
<rect x="1422" y="846" width="7" height="20" fill="#b9bdc6" />
<rect x="1430" y="846" width="7" height="20" fill="#b9bdc6" />
<rect x="1438" y="846" width="7" height="20" fill="#b9bdc6" />
<rect x="1446" y="846" width="7" height="20" fill="#b9bdc6" />
<rect x="1" y="870" width="4" height="18" fill="#b9bdc6" />
<rect x="6" y="870" width="7" height="18" fill="#b9bdc6" />
<rect x="14" y="870" width="7" height="18" fill="#b9bdc6" />
<rect x="22" y="870" width="7" height="18" fill="#b9bdc6" />
<rect x="30" y="870" width="7" height="18" fill="#b9bdc6" />
<rect x="38" y="870" width="7" height="18" fill="#b9bdc6" />
<rect x="46" y="870" width="7" height="18" fill="#b9bdc6" />
<rect x="54" y="870" width="7" height="18" fill="#e3394c" />
<rect x="62" y="870" width="7" height="18" fill="#e3394c" />
<rect x="70" y="870" width="7" height="18" fill="#e3394c" />
<rect x="78" y="870" width="7" height="18" fill="#e3394c" />
<rect x="86" y="870" width="7" height="18" fill="#e3394c" />
<rect x="94" y="870" width="7" height="18" fill="#e3394c" />
<rect x="102" y="870" width="7" height="18" fill="#e3394c" />
<rect x="110" y="870" width="7" height="18" fill="#e3394c" />
<rect x="118" y="870" width="7" height="18" fill="#e3394c" />
<rect x="126" y="870" width="7" height="18" fill="#b9bdc6" />
<rect x="134" y="870" width="7" height="18" fill="#b9bdc6" />
<rect x="142" y="870" width="7" height="18" fill="#b9bdc6" />
<rect x="150" y="870" width="7" height="18" fill="#b9bdc6" />
<rect x="158" y="870" width="7" height="18" fill="#b9bdc6" />
<rect x="166" y="870" width="7" height="18" fill="#b9bdc6" />
<rect x="174" y="870" width="7" height="18" fill="#e3394c" />
<rect x="182" y="870" width="7" height="18" fill="#e3394c" />
<rect x="190" y="870" width="7" height="18" fill="#e3394c" />
<rect x="198" y="870" width="7" height="18" fill="#e3394c" />
<rect x="206" y="870" width="7" height="18" fill="#e3394c" />
<rect x="214" y="870" width="7" height="18" fill="#e3394c" />
<rect x="222" y="870" width="7" height="18" fill="#e3394c" />
<rect x="230" y="870" width="7" height="18" fill="#e3394c" />
<rect x="238" y="870" width="7" height="18" fill="#e3394c" />
<rect x="246" y="870" width="7" height="18" fill="#e3394c" />
<rect x="254" y="870" width="7" height="18" fill="#e3394c" />
<rect x="262" y="870" width="7" height="18" fill="#e3394c" />
<rect x="270" y="870" width="7" height="18" fill="#e3394c" />
<rect x="278" y="870" width="7" height="18" fill="#e3394c" />
<rect x="286" y="870" width="7" height="18" fill="#e3394c" />
<rect x="294" y="870" width="7" height="18" fill="#e3394c" />
<rect x="302" y="870" width="7" height="18" fill="#e3394c" />
<rect x="310" y="870" width="7" height="18" fill="#e3394c" />
<rect x="318" y="870" width="7" height="18" fill="#e3394c" />
<rect x="326" y="870" width="7" height="18" fill="#e3394c" />
<rect x="334" y="870" width="7" height="18" fill="#e3394c" />
<rect x="342" y="870" width="7" height="18" fill="#e3394c" />
<rect x="350" y="870" width="7" height="18" fill="#e3394c" />
<rect x="358" y="870" width="7" height="18" fill="#e3394c" />
<rect x="366" y="870" width="7" height="18" fill="#e3394c" />
<rect x="374" y="870" width="7" height="18" fill="#e3394c" />
<rect x="382" y="870" width="7" height="18" fill="#e3394c" />
<rect x="390" y="870" width="7" height="18" fill="#e3394c" />
<rect x="398" y="870" width="7" height="18" fill="#e3394c" />
<rect x="406" y="870" width="7" height="18" fill="#e3394c" />
<rect x="414" y="870" width="7" height="18" fill="#e3394c" />
<rect x="422" y="870" width="7" height="18" fill="#e3394c" />
<rect x="430" y="870" width="7" height="18" fill="#e3394c" />
<rect x="438" y="870" width="7" height="18" fill="#e3394c" />
<rect x="446" y="870" width="7" height="18" fill="#e3394c" />
<rect x="454" y="870" width="7" height="18" fill="#e3394c" />
<rect x="462" y="870" width="7" height="18" fill="#e3394c" />
<rect x="470" y="870" width="7" height="18" fill="#e3394c" />
<rect x="478" y="870" width="7" height="18" fill="#b9bdc6" />
<rect x="486" y="870" width="7" height="18" fill="#b9bdc6" />
<rect x="494" y="870" width="7" height="18" fill="#b9bdc6" />
<rect x="502" y="870" width="7" height="18" fill="#b9bdc6" />
<rect x="510" y="870" width="7" height="18" fill="#b9bdc6" />
<rect x="518" y="870" width="7" height="18" fill="#b9bdc6" />
<rect x="526" y="870" width="7" height="18" fill="#b9bdc6" />
<rect x="534" y="870" width="7" height="18" fill="#e3394c" />
<rect x="542" y="870" width="7" height="18" fill="#e3394c" />
<rect x="550" y="870" width="7" height="18" fill="#e3394c" />
<rect x="558" y="870" width="7" height="18" fill="#b9bdc6" />
<rect x="566" y="870" width="7" height="18" fill="#b9bdc6" />
<rect x="574" y="870" width="7" height="18" fill="#b9bdc6" />
<rect x="582" y="870" width="7" height="18" fill="#b9bdc6" />
<rect x="590" y="870" width="7" height="18" fill="#b9bdc6" />
<rect x="598" y="870" width="7" height="18" fill="#b9bdc6" />
<rect x="606" y="870" width="7" height="18" fill="#b9bdc6" />
<rect x="614" y="870" width="7" height="18" fill="#b9bdc6" />
<rect x="622" y="870" width="7" height="18" fill="#b9bdc6" />
<rect x="630" y="870" width="7" height="18" fill="#b9bdc6" />
<rect x="638" y="870" width="7" height="18" fill="#b9bdc6" />
<rect x="646" y="870" width="7" height="18" fill="#b9bdc6" />
<rect x="654" y="870" width="7" height="18" fill="#b9bdc6" />
<rect x="662" y="870" width="7" height="18" fill="#b9bdc6" />
<rect x="670" y="870" width="7" height="18" fill="#b9bdc6" />
<rect x="678" y="870" width="7" height="18" fill="#b9bdc6" />
<rect x="686" y="870" width="7" height="18" fill="#b9bdc6" />
<rect x="694" y="870" width="7" height="18" fill="#b9bdc6" />
<rect x="702" y="870" width="7" height="18" fill="#b9bdc6" />
<rect x="710" y="870" width="7" height="18" fill="#b9bdc6" />
<rect x="718" y="870" width="7" height="18" fill="#e3394c" />
<rect x="726" y="870" width="7" height="18" fill="#e3394c" />
<rect x="734" y="870" width="7" height="18" fill="#e3394c" />
<rect x="742" y="870" width="7" height="18" fill="#e3394c" />
<rect x="750" y="870" width="7" height="18" fill="#e3394c" />
<rect x="758" y="870" width="7" height="18" fill="#e3394c" />
<rect x="766" y="870" width="7" height="18" fill="#b9bdc6" />
<rect x="774" y="870" width="7" height="18" fill="#b9bdc6" />
<rect x="782" y="870" width="7" height="18" fill="#e3394c" />
<rect x="790" y="870" width="7" height="18" fill="#e3394c" />
<rect x="798" y="870" width="7" height="18" fill="#b9bdc6" />
<rect x="806" y="870" width="7" height="18" fill="#e3394c" />
<rect x="814" y="870" width="7" height="18" fill="#e3394c" />
<rect x="822" y="870" width="7" height="18" fill="#e3394c" />
<rect x="830" y="870" width="7" height="18" fill="#e3394c" />
<rect x="838" y="870" width="7" height="18" fill="#b9bdc6" />
<rect x="846" y="870" width="7" height="18" fill="#b9bdc6" />
<rect x="854" y="870" width="7" height="18" fill="#b9bdc6" />
<rect x="862" y="870" width="7" height="18" fill="#b9bdc6" />
<rect x="870" y="870" width="7" height="18" fill="#b9bdc6" />
<rect x="878" y="870" width="7" height="18" fill="#b9bdc6" />
<rect x="886" y="870" width="7" height="18" fill="#b9bdc6" />
<rect x="894" y="870" width="7" height="18" fill="#b9bdc6" />
<rect x="902" y="870" width="7" height="18" fill="#b9bdc6" />
<rect x="910" y="870" width="7" height="18" fill="#e3394c" />
<rect x="918" y="870" width="7" height="18" fill="#e3394c" />
<rect x="926" y="870" width="7" height="18" fill="#e3394c" />
<rect x="934" y="870" width="7" height="18" fill="#e3394c" />
<rect x="942" y="870" width="7" height="18" fill="#b9bdc6" />
<rect x="950" y="870" width="7" height="18" fill="#b9bdc6" />
<rect x="958" y="870" width="7" height="18" fill="#b9bdc6" />
<rect x="966" y="870" width="7" height="18" fill="#b9bdc6" />
<rect x="974" y="870" width="7" height="18" fill="#b9bdc6" />
<rect x="982" y="870" width="7" height="18" fill="#b9bdc6" />
<rect x="990" y="870" width="7" height="18" fill="#b9bdc6" />
<rect x="998" y="870" width="7" height="18" fill="#b9bdc6" />
<rect x="1006" y="870" width="7" height="18" fill="#b9bdc6" />
<rect x="1014" y="870" width="7" height="18" fill="#b9bdc6" />
<rect x="1022" y="870" width="7" height="18" fill="#b9bdc6" />
<rect x="1030" y="870" width="7" height="18" fill="#b9bdc6" />
<rect x="1038" y="870" width="7" height="18" fill="#b9bdc6" />
<rect x="1046" y="870" width="7" height="18" fill="#e3394c" />
<rect x="1054" y="870" width="7" height="18" fill="#b9bdc6" />
<rect x="1062" y="870" width="7" height="18" fill="#b9bdc6" />
<rect x="1070" y="870" width="7" height="18" fill="#b9bdc6" />
<rect x="1078" y="870" width="7" height="18" fill="#b9bdc6" />
<rect x="1086" y="870" width="7" height="18" fill="#b9bdc6" />
<rect x="1094" y="870" width="7" height="18" fill="#b9bdc6" />
<rect x="1102" y="870" width="7" height="18" fill="#b9bdc6" />
<rect x="1110" y="870" width="7" height="18" fill="#b9bdc6" />
<rect x="1118" y="870" width="7" height="18" fill="#b9bdc6" />
<rect x="1126" y="870" width="7" height="18" fill="#b9bdc6" />
<rect x="1134" y="870" width="7" height="18" fill="#e3394c" />
<rect x="1142" y="870" width="7" height="18" fill="#e3394c" />
<rect x="1150" y="870" width="7" height="18" fill="#e3394c" />
<rect x="1158" y="870" width="7" height="18" fill="#e3394c" />
<rect x="1166" y="870" width="7" height="18" fill="#b9bdc6" />
<rect x="1174" y="870" width="7" height="18" fill="#b9bdc6" />
<rect x="1182" y="870" width="7" height="18" fill="#b9bdc6" />
<rect x="1190" y="870" width="7" height="18" fill="#b9bdc6" />
<rect x="1198" y="870" width="7" height="18" fill="#b9bdc6" />
<rect x="1206" y="870" width="7" height="18" fill="#b9bdc6" />
<rect x="1214" y="870" width="7" height="18" fill="#b9bdc6" />
<rect x="1222" y="870" width="7" height="18" fill="#b9bdc6" />
<rect x="1230" y="870" width="7" height="18" fill="#b9bdc6" />
<rect x="1238" y="870" width="7" height="18" fill="#b9bdc6" />
<rect x="1246" y="870" width="7" height="18" fill="#b9bdc6" />
<rect x="1254" y="870" width="7" height="18" fill="#b9bdc6" />
<rect x="1262" y="870" width="7" height="18" fill="#e3394c" />
<rect x="1270" y="870" width="7" height="18" fill="#e3394c" />
<rect x="1278" y="870" width="7" height="18" fill="#e3394c" />
<rect x="1286" y="870" width="7" height="18" fill="#e3394c" />
<rect x="1294" y="870" width="7" height="18" fill="#e3394c" />
<rect x="1302" y="870" width="7" height="18" fill="#e3394c" />
<rect x="1310" y="870" width="7" height="18" fill="#e3394c" />
<rect x="1318" y="870" width="7" height="18" fill="#e3394c" />
<rect x="1326" y="870" width="7" height="18" fill="#e3394c" />
<rect x="1334" y="870" width="7" height="18" fill="#e3394c" />
<rect x="1342" y="870" width="7" height="18" fill="#e3394c" />
<rect x="1350" y="870" width="7" height="18" fill="#e3394c" />
<rect x="1358" y="870" width="7" height="18" fill="#e3394c" />
<rect x="1366" y="870" width="7" height="18" fill="#b9bdc6" />
<rect x="1374" y="870" width="7" height="18" fill="#b9bdc6" />
<rect x="1382" y="870" width="7" height="18" fill="#b9bdc6" />
<rect x="1390" y="870" width="7" height="18" fill="#b9bdc6" />
<rect x="1398" y="870" width="7" height="18" fill="#b9bdc6" />
<rect x="1406" y="870" width="7" height="18" fill="#e3394c" />
<rect x="1414" y="870" width="7" height="18" fill="#e3394c" />
<rect x="1422" y="870" width="7" height="18" fill="#b9bdc6" />
<rect x="1430" y="870" width="7" height="18" fill="#b9bdc6" />
<rect x="1438" y="870" width="7" height="18" fill="#b9bdc6" />
<rect x="1446" y="870" width="7" height="18" fill="#b9bdc6" />
<rect x="1" y="894" width="3" height="6" fill="#b9bdc6" />
<rect x="1" y="900" width="3" height="5" fill="#e3394c" />
<rect x="1" y="905" width="3" height="5" fill="#b9bdc6" />
<rect x="6" y="894" width="6" height="6" fill="#b9bdc6" />
<rect x="6" y="900" width="6" height="5" fill="#e3394c" />
<rect x="6" y="905" width="6" height="5" fill="#b9bdc6" />
<rect x="14" y="894" width="6" height="6" fill="#b9bdc6" />
<rect x="14" y="900" width="6" height="5" fill="#e3394c" />
<rect x="14" y="905" width="6" height="5" fill="#b9bdc6" />
<rect x="22" y="894" width="6" height="6" fill="#b9bdc6" />
<rect x="22" y="900" width="6" height="5" fill="#e3394c" />
<rect x="22" y="905" width="6" height="5" fill="#e3394c" />
<rect x="30" y="894" width="6" height="6" fill="#b9bdc6" />
<rect x="30" y="900" width="6" height="5" fill="#e3394c" />
<rect x="30" y="905" width="6" height="5" fill="#e3394c" />
<rect x="38" y="894" width="6" height="6" fill="#b9bdc6" />
<rect x="38" y="900" width="6" height="5" fill="#e3394c" />
<rect x="38" y="905" width="6" height="5" fill="#e3394c" />
<rect x="46" y="894" width="6" height="6" fill="#b9bdc6" />
<rect x="46" y="900" width="6" height="5" fill="#e3394c" />
<rect x="46" y="905" width="6" height="5" fill="#e3394c" />
<rect x="54" y="894" width="6" height="6" fill="#e3394c" />
<rect x="54" y="900" width="6" height="5" fill="#e3394c" />
<rect x="54" y="905" width="6" height="5" fill="#e3394c" />
<rect x="62" y="894" width="6" height="6" fill="#e3394c" />
<rect x="62" y="900" width="6" height="5" fill="#e3394c" />
<rect x="62" y="905" width="6" height="5" fill="#e3394c" />
<rect x="70" y="894" width="6" height="6" fill="#e3394c" />
<rect x="70" y="900" width="6" height="5" fill="#e3394c" />
<rect x="70" y="905" width="6" height="5" fill="#e3394c" />
<rect x="78" y="894" width="6" height="6" fill="#e3394c" />
<rect x="78" y="900" width="6" height="5" fill="#e3394c" />
<rect x="78" y="905" width="6" height="5" fill="#e3394c" />
<rect x="86" y="894" width="6" height="6" fill="#e3394c" />
<rect x="86" y="900" width="6" height="5" fill="#e3394c" />
<rect x="86" y="905" width="6" height="5" fill="#e3394c" />
<rect x="94" y="894" width="6" height="6" fill="#e3394c" />
<rect x="94" y="900" width="6" height="5" fill="#e3394c" />
<rect x="94" y="905" width="6" height="5" fill="#e3394c" />
<rect x="102" y="894" width="6" height="6" fill="#e3394c" />
<rect x="102" y="900" width="6" height="5" fill="#e3394c" />
<rect x="102" y="905" width="6" height="5" fill="#b9bdc6" />
<rect x="110" y="894" width="6" height="6" fill="#e3394c" />
<rect x="110" y="900" width="6" height="5" fill="#e3394c" />
<rect x="110" y="905" width="6" height="5" fill="#b9bdc6" />
<rect x="118" y="894" width="6" height="6" fill="#b9bdc6" />
<rect x="118" y="900" width="6" height="5" fill="#b9bdc6" />
<rect x="118" y="905" width="6" height="5" fill="#b9bdc6" />
<rect x="126" y="894" width="6" height="6" fill="#b9bdc6" />
<rect x="126" y="900" width="6" height="5" fill="#b9bdc6" />
<rect x="126" y="905" width="6" height="5" fill="#b9bdc6" />
<rect x="134" y="894" width="6" height="6" fill="#b9bdc6" />
<rect x="134" y="900" width="6" height="5" fill="#b9bdc6" />
<rect x="134" y="905" width="6" height="5" fill="#b9bdc6" />
<rect x="142" y="894" width="6" height="6" fill="#b9bdc6" />
<rect x="142" y="900" width="6" height="5" fill="#b9bdc6" />
<rect x="142" y="905" width="6" height="5" fill="#b9bdc6" />
<rect x="150" y="894" width="6" height="6" fill="#b9bdc6" />
<rect x="150" y="900" width="6" height="5" fill="#b9bdc6" />
<rect x="150" y="905" width="6" height="5" fill="#b9bdc6" />
<rect x="158" y="894" width="6" height="6" fill="#b9bdc6" />
<rect x="158" y="900" width="6" height="5" fill="#b9bdc6" />
<rect x="158" y="905" width="6" height="5" fill="#b9bdc6" />
<rect x="166" y="894" width="6" height="6" fill="#b9bdc6" />
<rect x="166" y="900" width="6" height="5" fill="#e3394c" />
<rect x="166" y="905" width="6" height="5" fill="#e3394c" />
<rect x="174" y="894" width="6" height="6" fill="#e3394c" />
<rect x="174" y="900" width="6" height="5" fill="#e3394c" />
<rect x="174" y="905" width="6" height="5" fill="#e3394c" />
<rect x="182" y="894" width="6" height="6" fill="#e3394c" />
<rect x="182" y="900" width="6" height="5" fill="#e3394c" />
<rect x="182" y="905" width="6" height="5" fill="#e3394c" />
<rect x="190" y="894" width="6" height="6" fill="#e3394c" />
<rect x="190" y="900" width="6" height="5" fill="#e3394c" />
<rect x="190" y="905" width="6" height="5" fill="#e3394c" />
<rect x="198" y="894" width="6" height="6" fill="#e3394c" />
<rect x="198" y="900" width="6" height="5" fill="#e3394c" />
<rect x="198" y="905" width="6" height="5" fill="#e3394c" />
<rect x="206" y="894" width="6" height="6" fill="#e3394c" />
<rect x="206" y="900" width="6" height="5" fill="#e3394c" />
<rect x="206" y="905" width="6" height="5" fill="#e3394c" />
<rect x="214" y="894" width="6" height="6" fill="#e3394c" />
<rect x="214" y="900" width="6" height="5" fill="#e3394c" />
<rect x="214" y="905" width="6" height="5" fill="#e3394c" />
<rect x="222" y="894" width="6" height="6" fill="#e3394c" />
<rect x="222" y="900" width="6" height="5" fill="#e3394c" />
<rect x="222" y="905" width="6" height="5" fill="#e3394c" />
<rect x="230" y="894" width="6" height="6" fill="#e3394c" />
<rect x="230" y="900" width="6" height="5" fill="#e3394c" />
<rect x="230" y="905" width="6" height="5" fill="#e3394c" />
<rect x="238" y="894" width="6" height="6" fill="#e3394c" />
<rect x="238" y="900" width="6" height="5" fill="#e3394c" />
<rect x="238" y="905" width="6" height="5" fill="#e3394c" />
<rect x="246" y="894" width="6" height="6" fill="#e3394c" />
<rect x="246" y="900" width="6" height="5" fill="#e3394c" />
<rect x="246" y="905" width="6" height="5" fill="#b9bdc6" />
<rect x="254" y="894" width="6" height="6" fill="#e3394c" />
<rect x="254" y="900" width="6" height="5" fill="#e3394c" />
<rect x="254" y="905" width="6" height="5" fill="#b9bdc6" />
<rect x="262" y="894" width="6" height="6" fill="#e3394c" />
<rect x="262" y="900" width="6" height="5" fill="#b9bdc6" />
<rect x="262" y="905" width="6" height="5" fill="#b9bdc6" />
<rect x="270" y="894" width="6" height="6" fill="#e3394c" />
<rect x="270" y="900" width="6" height="5" fill="#b9bdc6" />
<rect x="270" y="905" width="6" height="5" fill="#b9bdc6" />
<rect x="278" y="894" width="6" height="6" fill="#e3394c" />
<rect x="278" y="900" width="6" height="5" fill="#b9bdc6" />
<rect x="278" y="905" width="6" height="5" fill="#b9bdc6" />
<rect x="286" y="894" width="6" height="6" fill="#e3394c" />
<rect x="286" y="900" width="6" height="5" fill="#b9bdc6" />
<rect x="286" y="905" width="6" height="5" fill="#b9bdc6" />
<rect x="294" y="894" width="6" height="6" fill="#e3394c" />
<rect x="294" y="900" width="6" height="5" fill="#b9bdc6" />
<rect x="294" y="905" width="6" height="5" fill="#b9bdc6" />
<rect x="302" y="894" width="6" height="6" fill="#e3394c" />
<rect x="302" y="900" width="6" height="5" fill="#b9bdc6" />
<rect x="302" y="905" width="6" height="5" fill="#b9bdc6" />
<rect x="310" y="894" width="6" height="6" fill="#e3394c" />
<rect x="310" y="900" width="6" height="5" fill="#b9bdc6" />
<rect x="310" y="905" width="6" height="5" fill="#b9bdc6" />
<rect x="318" y="894" width="6" height="6" fill="#e3394c" />
<rect x="318" y="900" width="6" height="5" fill="#b9bdc6" />
<rect x="318" y="905" width="6" height="5" fill="#b9bdc6" />
<rect x="326" y="894" width="6" height="6" fill="#e3394c" />
<rect x="326" y="900" width="6" height="5" fill="#b9bdc6" />
<rect x="326" y="905" width="6" height="5" fill="#b9bdc6" />
<rect x="334" y="894" width="6" height="6" fill="#e3394c" />
<rect x="334" y="900" width="6" height="5" fill="#b9bdc6" />
<rect x="334" y="905" width="6" height="5" fill="#b9bdc6" />
<rect x="342" y="894" width="6" height="6" fill="#e3394c" />
<rect x="342" y="900" width="6" height="5" fill="#e3394c" />
<rect x="342" y="905" width="6" height="5" fill="#e3394c" />
<rect x="350" y="894" width="6" height="6" fill="#e3394c" />
<rect x="350" y="900" width="6" height="5" fill="#e3394c" />
<rect x="350" y="905" width="6" height="5" fill="#e3394c" />
<rect x="358" y="894" width="6" height="6" fill="#e3394c" />
<rect x="358" y="900" width="6" height="5" fill="#e3394c" />
<rect x="358" y="905" width="6" height="5" fill="#e3394c" />
<rect x="366" y="894" width="6" height="6" fill="#e3394c" />
<rect x="366" y="900" width="6" height="5" fill="#e3394c" />
<rect x="366" y="905" width="6" height="5" fill="#e3394c" />
<rect x="374" y="894" width="6" height="6" fill="#e3394c" />
<rect x="374" y="900" width="6" height="5" fill="#e3394c" />
<rect x="374" y="905" width="6" height="5" fill="#e3394c" />
<rect x="382" y="894" width="6" height="6" fill="#e3394c" />
<rect x="382" y="900" width="6" height="5" fill="#e3394c" />
<rect x="382" y="905" width="6" height="5" fill="#e3394c" />
<rect x="390" y="894" width="6" height="6" fill="#e3394c" />
<rect x="390" y="900" width="6" height="5" fill="#e3394c" />
<rect x="390" y="905" width="6" height="5" fill="#e3394c" />
<rect x="398" y="894" width="6" height="6" fill="#e3394c" />
<rect x="398" y="900" width="6" height="5" fill="#e3394c" />
<rect x="398" y="905" width="6" height="5" fill="#e3394c" />
<rect x="406" y="894" width="6" height="6" fill="#e3394c" />
<rect x="406" y="900" width="6" height="5" fill="#e3394c" />
<rect x="406" y="905" width="6" height="5" fill="#e3394c" />
<rect x="414" y="894" width="6" height="6" fill="#e3394c" />
<rect x="414" y="900" width="6" height="5" fill="#e3394c" />
<rect x="414" y="905" width="6" height="5" fill="#e3394c" />
<rect x="422" y="894" width="6" height="6" fill="#e3394c" />
<rect x="422" y="900" width="6" height="5" fill="#e3394c" />
<rect x="422" y="905" width="6" height="5" fill="#e3394c" />
<rect x="430" y="894" width="6" height="6" fill="#e3394c" />
<rect x="430" y="900" width="6" height="5" fill="#e3394c" />
<rect x="430" y="905" width="6" height="5" fill="#e3394c" />
<rect x="438" y="894" width="6" height="6" fill="#e3394c" />
<rect x="438" y="900" width="6" height="5" fill="#e3394c" />
<rect x="438" y="905" width="6" height="5" fill="#e3394c" />
<rect x="446" y="894" width="6" height="6" fill="#e3394c" />
<rect x="446" y="900" width="6" height="5" fill="#e3394c" />
<rect x="446" y="905" width="6" height="5" fill="#e3394c" />
<rect x="454" y="894" width="6" height="6" fill="#e3394c" />
<rect x="454" y="900" width="6" height="5" fill="#e3394c" />
<rect x="454" y="905" width="6" height="5" fill="#b9bdc6" />
<rect x="462" y="894" width="6" height="6" fill="#e3394c" />
<rect x="462" y="900" width="6" height="5" fill="#b9bdc6" />
<rect x="462" y="905" width="6" height="5" fill="#b9bdc6" />
<rect x="470" y="894" width="6" height="6" fill="#b9bdc6" />
<rect x="470" y="900" width="6" height="5" fill="#b9bdc6" />
<rect x="470" y="905" width="6" height="5" fill="#b9bdc6" />
<rect x="478" y="894" width="6" height="6" fill="#b9bdc6" />
<rect x="478" y="900" width="6" height="5" fill="#b9bdc6" />
<rect x="478" y="905" width="6" height="5" fill="#b9bdc6" />
<rect x="486" y="894" width="6" height="6" fill="#b9bdc6" />
<rect x="486" y="900" width="6" height="5" fill="#b9bdc6" />
<rect x="486" y="905" width="6" height="5" fill="#b9bdc6" />
<rect x="494" y="894" width="6" height="6" fill="#b9bdc6" />
<rect x="494" y="900" width="6" height="5" fill="#b9bdc6" />
<rect x="494" y="905" width="6" height="5" fill="#b9bdc6" />
<rect x="502" y="894" width="6" height="6" fill="#b9bdc6" />
<rect x="502" y="900" width="6" height="5" fill="#b9bdc6" />
<rect x="502" y="905" width="6" height="5" fill="#b9bdc6" />
<rect x="510" y="894" width="6" height="6" fill="#b9bdc6" />
<rect x="510" y="900" width="6" height="5" fill="#b9bdc6" />
<rect x="510" y="905" width="6" height="5" fill="#e3394c" />
<rect x="518" y="894" width="6" height="6" fill="#b9bdc6" />
<rect x="518" y="900" width="6" height="5" fill="#b9bdc6" />
<rect x="518" y="905" width="6" height="5" fill="#e3394c" />
<rect x="526" y="894" width="6" height="6" fill="#b9bdc6" />
<rect x="526" y="900" width="6" height="5" fill="#b9bdc6" />
<rect x="526" y="905" width="6" height="5" fill="#e3394c" />
<rect x="534" y="894" width="6" height="6" fill="#e3394c" />
<rect x="534" y="900" width="6" height="5" fill="#e3394c" />
<rect x="534" y="905" width="6" height="5" fill="#e3394c" />
<rect x="542" y="894" width="6" height="6" fill="#e3394c" />
<rect x="542" y="900" width="6" height="5" fill="#e3394c" />
<rect x="542" y="905" width="6" height="5" fill="#e3394c" />
<rect x="550" y="894" width="6" height="6" fill="#e3394c" />
<rect x="550" y="900" width="6" height="5" fill="#e3394c" />
<rect x="550" y="905" width="6" height="5" fill="#e3394c" />
<rect x="558" y="894" width="6" height="6" fill="#b9bdc6" />
<rect x="558" y="900" width="6" height="5" fill="#b9bdc6" />
<rect x="558" y="905" width="6" height="5" fill="#b9bdc6" />
<rect x="566" y="894" width="6" height="6" fill="#b9bdc6" />
<rect x="566" y="900" width="6" height="5" fill="#b9bdc6" />
<rect x="566" y="905" width="6" height="5" fill="#b9bdc6" />
<rect x="574" y="894" width="6" height="6" fill="#b9bdc6" />
<rect x="574" y="900" width="6" height="5" fill="#b9bdc6" />
<rect x="574" y="905" width="6" height="5" fill="#b9bdc6" />
<rect x="582" y="894" width="6" height="6" fill="#b9bdc6" />
<rect x="582" y="900" width="6" height="5" fill="#b9bdc6" />
<rect x="582" y="905" width="6" height="5" fill="#b9bdc6" />
<rect x="590" y="894" width="6" height="6" fill="#b9bdc6" />
<rect x="590" y="900" width="6" height="5" fill="#b9bdc6" />
<rect x="590" y="905" width="6" height="5" fill="#b9bdc6" />
<rect x="598" y="894" width="6" height="6" fill="#b9bdc6" />
<rect x="598" y="900" width="6" height="5" fill="#b9bdc6" />
<rect x="598" y="905" width="6" height="5" fill="#b9bdc6" />
<rect x="606" y="894" width="6" height="6" fill="#b9bdc6" />
<rect x="606" y="900" width="6" height="5" fill="#b9bdc6" />
<rect x="606" y="905" width="6" height="5" fill="#b9bdc6" />
<rect x="614" y="894" width="6" height="6" fill="#b9bdc6" />
<rect x="614" y="900" width="6" height="5" fill="#b9bdc6" />
<rect x="614" y="905" width="6" height="5" fill="#b9bdc6" />
<rect x="622" y="894" width="6" height="6" fill="#b9bdc6" />
<rect x="622" y="900" width="6" height="5" fill="#b9bdc6" />
<rect x="622" y="905" width="6" height="5" fill="#b9bdc6" />
<rect x="630" y="894" width="6" height="6" fill="#b9bdc6" />
<rect x="630" y="900" width="6" height="5" fill="#b9bdc6" />
<rect x="630" y="905" width="6" height="5" fill="#b9bdc6" />
<rect x="638" y="894" width="6" height="6" fill="#b9bdc6" />
<rect x="638" y="900" width="6" height="5" fill="#b9bdc6" />
<rect x="638" y="905" width="6" height="5" fill="#b9bdc6" />
<rect x="646" y="894" width="6" height="6" fill="#b9bdc6" />
<rect x="646" y="900" width="6" height="5" fill="#b9bdc6" />
<rect x="646" y="905" width="6" height="5" fill="#b9bdc6" />
<rect x="654" y="894" width="6" height="6" fill="#b9bdc6" />
<rect x="654" y="900" width="6" height="5" fill="#b9bdc6" />
<rect x="654" y="905" width="6" height="5" fill="#b9bdc6" />
<rect x="662" y="894" width="6" height="6" fill="#b9bdc6" />
<rect x="662" y="900" width="6" height="5" fill="#b9bdc6" />
<rect x="662" y="905" width="6" height="5" fill="#b9bdc6" />
<rect x="670" y="894" width="6" height="6" fill="#b9bdc6" />
<rect x="670" y="900" width="6" height="5" fill="#b9bdc6" />
<rect x="670" y="905" width="6" height="5" fill="#b9bdc6" />
<rect x="678" y="894" width="6" height="6" fill="#b9bdc6" />
<rect x="678" y="900" width="6" height="5" fill="#b9bdc6" />
<rect x="678" y="905" width="6" height="5" fill="#b9bdc6" />
<rect x="686" y="894" width="6" height="6" fill="#b9bdc6" />
<rect x="686" y="900" width="6" height="5" fill="#b9bdc6" />
<rect x="686" y="905" width="6" height="5" fill="#b9bdc6" />
<rect x="694" y="894" width="6" height="6" fill="#b9bdc6" />
<rect x="694" y="900" width="6" height="5" fill="#b9bdc6" />
<rect x="694" y="905" width="6" height="5" fill="#b9bdc6" />
<rect x="702" y="894" width="6" height="6" fill="#b9bdc6" />
<rect x="702" y="900" width="6" height="5" fill="#b9bdc6" />
<rect x="702" y="905" width="6" height="5" fill="#b9bdc6" />
<rect x="710" y="894" width="6" height="6" fill="#b9bdc6" />
<rect x="710" y="900" width="6" height="5" fill="#b9bdc6" />
<rect x="710" y="905" width="6" height="5" fill="#b9bdc6" />
<rect x="718" y="894" width="6" height="6" fill="#b9bdc6" />
<rect x="718" y="900" width="6" height="5" fill="#b9bdc6" />
<rect x="718" y="905" width="6" height="5" fill="#b9bdc6" />
<rect x="726" y="894" width="6" height="6" fill="#b9bdc6" />
<rect x="726" y="900" width="6" height="5" fill="#b9bdc6" />
<rect x="726" y="905" width="6" height="5" fill="#b9bdc6" />
<rect x="734" y="894" width="6" height="6" fill="#b9bdc6" />
<rect x="734" y="900" width="6" height="5" fill="#b9bdc6" />
<rect x="734" y="905" width="6" height="5" fill="#b9bdc6" />
<rect x="742" y="894" width="6" height="6" fill="#b9bdc6" />
<rect x="742" y="900" width="6" height="5" fill="#b9bdc6" />
<rect x="742" y="905" width="6" height="5" fill="#b9bdc6" />
<rect x="750" y="894" width="6" height="6" fill="#b9bdc6" />
<rect x="750" y="900" width="6" height="5" fill="#b9bdc6" />
<rect x="750" y="905" width="6" height="5" fill="#b9bdc6" />
<rect x="758" y="894" width="6" height="6" fill="#b9bdc6" />
<rect x="758" y="900" width="6" height="5" fill="#b9bdc6" />
<rect x="758" y="905" width="6" height="5" fill="#b9bdc6" />
<rect x="766" y="894" width="6" height="6" fill="#b9bdc6" />
<rect x="766" y="900" width="6" height="5" fill="#b9bdc6" />
<rect x="766" y="905" width="6" height="5" fill="#b9bdc6" />
<rect x="774" y="894" width="6" height="6" fill="#b9bdc6" />
<rect x="774" y="900" width="6" height="5" fill="#b9bdc6" />
<rect x="774" y="905" width="6" height="5" fill="#b9bdc6" />
<rect x="782" y="894" width="6" height="6" fill="#b9bdc6" />
<rect x="782" y="900" width="6" height="5" fill="#b9bdc6" />
<rect x="782" y="905" width="6" height="5" fill="#e3394c" />
<rect x="790" y="894" width="6" height="6" fill="#b9bdc6" />
<rect x="790" y="900" width="6" height="5" fill="#b9bdc6" />
<rect x="790" y="905" width="6" height="5" fill="#e3394c" />
<rect x="798" y="894" width="6" height="6" fill="#b9bdc6" />
<rect x="798" y="900" width="6" height="5" fill="#b9bdc6" />
<rect x="798" y="905" width="6" height="5" fill="#b9bdc6" />
<rect x="806" y="894" width="6" height="6" fill="#b9bdc6" />
<rect x="806" y="900" width="6" height="5" fill="#b9bdc6" />
<rect x="806" y="905" width="6" height="5" fill="#b9bdc6" />
<rect x="814" y="894" width="6" height="6" fill="#b9bdc6" />
<rect x="814" y="900" width="6" height="5" fill="#b9bdc6" />
<rect x="814" y="905" width="6" height="5" fill="#b9bdc6" />
<rect x="822" y="894" width="6" height="6" fill="#b9bdc6" />
<rect x="822" y="900" width="6" height="5" fill="#b9bdc6" />
<rect x="822" y="905" width="6" height="5" fill="#b9bdc6" />
<rect x="830" y="894" width="6" height="6" fill="#b9bdc6" />
<rect x="830" y="900" width="6" height="5" fill="#b9bdc6" />
<rect x="830" y="905" width="6" height="5" fill="#b9bdc6" />
<rect x="838" y="894" width="6" height="6" fill="#b9bdc6" />
<rect x="838" y="900" width="6" height="5" fill="#b9bdc6" />
<rect x="838" y="905" width="6" height="5" fill="#b9bdc6" />
<rect x="846" y="894" width="6" height="6" fill="#b9bdc6" />
<rect x="846" y="900" width="6" height="5" fill="#b9bdc6" />
<rect x="846" y="905" width="6" height="5" fill="#b9bdc6" />
<rect x="854" y="894" width="6" height="6" fill="#b9bdc6" />
<rect x="854" y="900" width="6" height="5" fill="#b9bdc6" />
<rect x="854" y="905" width="6" height="5" fill="#b9bdc6" />
<rect x="862" y="894" width="6" height="6" fill="#b9bdc6" />
<rect x="862" y="900" width="6" height="5" fill="#b9bdc6" />
<rect x="862" y="905" width="6" height="5" fill="#b9bdc6" />
<rect x="870" y="894" width="6" height="6" fill="#b9bdc6" />
<rect x="870" y="900" width="6" height="5" fill="#b9bdc6" />
<rect x="870" y="905" width="6" height="5" fill="#b9bdc6" />
<rect x="878" y="894" width="6" height="6" fill="#b9bdc6" />
<rect x="878" y="900" width="6" height="5" fill="#b9bdc6" />
<rect x="878" y="905" width="6" height="5" fill="#b9bdc6" />
<rect x="886" y="894" width="6" height="6" fill="#b9bdc6" />
<rect x="886" y="900" width="6" height="5" fill="#b9bdc6" />
<rect x="886" y="905" width="6" height="5" fill="#b9bdc6" />
<rect x="894" y="894" width="6" height="6" fill="#b9bdc6" />
<rect x="894" y="900" width="6" height="5" fill="#b9bdc6" />
<rect x="894" y="905" width="6" height="5" fill="#b9bdc6" />
<rect x="902" y="894" width="6" height="6" fill="#b9bdc6" />
<rect x="902" y="900" width="6" height="5" fill="#b9bdc6" />
<rect x="902" y="905" width="6" height="5" fill="#b9bdc6" />
<rect x="910" y="894" width="6" height="6" fill="#b9bdc6" />
<rect x="910" y="900" width="6" height="5" fill="#e3394c" />
<rect x="910" y="905" width="6" height="5" fill="#e3394c" />
<rect x="918" y="894" width="6" height="6" fill="#b9bdc6" />
<rect x="918" y="900" width="6" height="5" fill="#e3394c" />
<rect x="918" y="905" width="6" height="5" fill="#e3394c" />
<rect x="926" y="894" width="6" height="6" fill="#b9bdc6" />
<rect x="926" y="900" width="6" height="5" fill="#e3394c" />
<rect x="926" y="905" width="6" height="5" fill="#e3394c" />
<rect x="934" y="894" width="6" height="6" fill="#b9bdc6" />
<rect x="934" y="900" width="6" height="5" fill="#e3394c" />
<rect x="934" y="905" width="6" height="5" fill="#e3394c" />
<rect x="942" y="894" width="6" height="6" fill="#b9bdc6" />
<rect x="942" y="900" width="6" height="5" fill="#b9bdc6" />
<rect x="942" y="905" width="6" height="5" fill="#b9bdc6" />
<rect x="950" y="894" width="6" height="6" fill="#b9bdc6" />
<rect x="950" y="900" width="6" height="5" fill="#b9bdc6" />
<rect x="950" y="905" width="6" height="5" fill="#b9bdc6" />
<rect x="958" y="894" width="6" height="6" fill="#b9bdc6" />
<rect x="958" y="900" width="6" height="5" fill="#b9bdc6" />
<rect x="958" y="905" width="6" height="5" fill="#b9bdc6" />
<rect x="966" y="894" width="6" height="6" fill="#b9bdc6" />
<rect x="966" y="900" width="6" height="5" fill="#b9bdc6" />
<rect x="966" y="905" width="6" height="5" fill="#b9bdc6" />
<rect x="974" y="894" width="6" height="6" fill="#b9bdc6" />
<rect x="974" y="900" width="6" height="5" fill="#b9bdc6" />
<rect x="974" y="905" width="6" height="5" fill="#b9bdc6" />
<rect x="982" y="894" width="6" height="6" fill="#b9bdc6" />
<rect x="982" y="900" width="6" height="5" fill="#b9bdc6" />
<rect x="982" y="905" width="6" height="5" fill="#b9bdc6" />
<rect x="990" y="894" width="6" height="6" fill="#b9bdc6" />
<rect x="990" y="900" width="6" height="5" fill="#b9bdc6" />
<rect x="990" y="905" width="6" height="5" fill="#b9bdc6" />
<rect x="998" y="894" width="6" height="6" fill="#b9bdc6" />
<rect x="998" y="900" width="6" height="5" fill="#b9bdc6" />
<rect x="998" y="905" width="6" height="5" fill="#b9bdc6" />
<rect x="1006" y="894" width="6" height="6" fill="#b9bdc6" />
<rect x="1006" y="900" width="6" height="5" fill="#b9bdc6" />
<rect x="1006" y="905" width="6" height="5" fill="#b9bdc6" />
<rect x="1014" y="894" width="6" height="6" fill="#b9bdc6" />
<rect x="1014" y="900" width="6" height="5" fill="#b9bdc6" />
<rect x="1014" y="905" width="6" height="5" fill="#b9bdc6" />
<rect x="1022" y="894" width="6" height="6" fill="#b9bdc6" />
<rect x="1022" y="900" width="6" height="5" fill="#b9bdc6" />
<rect x="1022" y="905" width="6" height="5" fill="#b9bdc6" />
<rect x="1030" y="894" width="6" height="6" fill="#b9bdc6" />
<rect x="1030" y="900" width="6" height="5" fill="#b9bdc6" />
<rect x="1030" y="905" width="6" height="5" fill="#b9bdc6" />
<rect x="1038" y="894" width="6" height="6" fill="#b9bdc6" />
<rect x="1038" y="900" width="6" height="5" fill="#b9bdc6" />
<rect x="1038" y="905" width="6" height="5" fill="#b9bdc6" />
<rect x="1046" y="894" width="6" height="6" fill="#b9bdc6" />
<rect x="1046" y="900" width="6" height="5" fill="#b9bdc6" />
<rect x="1046" y="905" width="6" height="5" fill="#b9bdc6" />
<rect x="1054" y="894" width="6" height="6" fill="#b9bdc6" />
<rect x="1054" y="900" width="6" height="5" fill="#b9bdc6" />
<rect x="1054" y="905" width="6" height="5" fill="#b9bdc6" />
<rect x="1062" y="894" width="6" height="6" fill="#b9bdc6" />
<rect x="1062" y="900" width="6" height="5" fill="#b9bdc6" />
<rect x="1062" y="905" width="6" height="5" fill="#b9bdc6" />
<rect x="1070" y="894" width="6" height="6" fill="#b9bdc6" />
<rect x="1070" y="900" width="6" height="5" fill="#b9bdc6" />
<rect x="1070" y="905" width="6" height="5" fill="#b9bdc6" />
<rect x="1078" y="894" width="6" height="6" fill="#b9bdc6" />
<rect x="1078" y="900" width="6" height="5" fill="#b9bdc6" />
<rect x="1078" y="905" width="6" height="5" fill="#b9bdc6" />
<rect x="1086" y="894" width="6" height="6" fill="#b9bdc6" />
<rect x="1086" y="900" width="6" height="5" fill="#b9bdc6" />
<rect x="1086" y="905" width="6" height="5" fill="#b9bdc6" />
<rect x="1094" y="894" width="6" height="6" fill="#b9bdc6" />
<rect x="1094" y="900" width="6" height="5" fill="#b9bdc6" />
<rect x="1094" y="905" width="6" height="5" fill="#b9bdc6" />
<rect x="1102" y="894" width="6" height="6" fill="#b9bdc6" />
<rect x="1102" y="900" width="6" height="5" fill="#b9bdc6" />
<rect x="1102" y="905" width="6" height="5" fill="#b9bdc6" />
<rect x="1110" y="894" width="6" height="6" fill="#b9bdc6" />
<rect x="1110" y="900" width="6" height="5" fill="#b9bdc6" />
<rect x="1110" y="905" width="6" height="5" fill="#b9bdc6" />
<rect x="1118" y="894" width="6" height="6" fill="#b9bdc6" />
<rect x="1118" y="900" width="6" height="5" fill="#b9bdc6" />
<rect x="1118" y="905" width="6" height="5" fill="#b9bdc6" />
<rect x="1126" y="894" width="6" height="6" fill="#b9bdc6" />
<rect x="1126" y="900" width="6" height="5" fill="#b9bdc6" />
<rect x="1126" y="905" width="6" height="5" fill="#b9bdc6" />
<rect x="1134" y="894" width="6" height="6" fill="#b9bdc6" />
<rect x="1134" y="900" width="6" height="5" fill="#b9bdc6" />
<rect x="1134" y="905" width="6" height="5" fill="#b9bdc6" />
<rect x="1142" y="894" width="6" height="6" fill="#b9bdc6" />
<rect x="1142" y="900" width="6" height="5" fill="#b9bdc6" />
<rect x="1142" y="905" width="6" height="5" fill="#b9bdc6" />
<rect x="1150" y="894" width="6" height="6" fill="#b9bdc6" />
<rect x="1150" y="900" width="6" height="5" fill="#b9bdc6" />
<rect x="1150" y="905" width="6" height="5" fill="#e3394c" />
<rect x="1158" y="894" width="6" height="6" fill="#b9bdc6" />
<rect x="1158" y="900" width="6" height="5" fill="#b9bdc6" />
<rect x="1158" y="905" width="6" height="5" fill="#e3394c" />
<rect x="1166" y="894" width="6" height="6" fill="#b9bdc6" />
<rect x="1166" y="900" width="6" height="5" fill="#b9bdc6" />
<rect x="1166" y="905" width="6" height="5" fill="#e3394c" />
<rect x="1174" y="894" width="6" height="6" fill="#b9bdc6" />
<rect x="1174" y="900" width="6" height="5" fill="#b9bdc6" />
<rect x="1174" y="905" width="6" height="5" fill="#e3394c" />
<rect x="1182" y="894" width="6" height="6" fill="#b9bdc6" />
<rect x="1182" y="900" width="6" height="5" fill="#b9bdc6" />
<rect x="1182" y="905" width="6" height="5" fill="#e3394c" />
<rect x="1190" y="894" width="6" height="6" fill="#b9bdc6" />
<rect x="1190" y="900" width="6" height="5" fill="#b9bdc6" />
<rect x="1190" y="905" width="6" height="5" fill="#e3394c" />
<rect x="1198" y="894" width="6" height="6" fill="#b9bdc6" />
<rect x="1198" y="900" width="6" height="5" fill="#b9bdc6" />
<rect x="1198" y="905" width="6" height="5" fill="#e3394c" />
<rect x="1206" y="894" width="6" height="6" fill="#b9bdc6" />
<rect x="1206" y="900" width="6" height="5" fill="#b9bdc6" />
<rect x="1206" y="905" width="6" height="5" fill="#e3394c" />
<rect x="1214" y="894" width="6" height="6" fill="#b9bdc6" />
<rect x="1214" y="900" width="6" height="5" fill="#b9bdc6" />
<rect x="1214" y="905" width="6" height="5" fill="#b9bdc6" />
<rect x="1222" y="894" width="6" height="6" fill="#b9bdc6" />
<rect x="1222" y="900" width="6" height="5" fill="#b9bdc6" />
<rect x="1222" y="905" width="6" height="5" fill="#b9bdc6" />
<rect x="1230" y="894" width="6" height="6" fill="#b9bdc6" />
<rect x="1230" y="900" width="6" height="5" fill="#b9bdc6" />
<rect x="1230" y="905" width="6" height="5" fill="#b9bdc6" />
<rect x="1238" y="894" width="6" height="6" fill="#b9bdc6" />
<rect x="1238" y="900" width="6" height="5" fill="#b9bdc6" />
<rect x="1238" y="905" width="6" height="5" fill="#b9bdc6" />
<rect x="1246" y="894" width="6" height="6" fill="#b9bdc6" />
<rect x="1246" y="900" width="6" height="5" fill="#b9bdc6" />
<rect x="1246" y="905" width="6" height="5" fill="#b9bdc6" />
<rect x="1254" y="894" width="6" height="6" fill="#b9bdc6" />
<rect x="1254" y="900" width="6" height="5" fill="#b9bdc6" />
<rect x="1254" y="905" width="6" height="5" fill="#b9bdc6" />
<rect x="1262" y="894" width="6" height="6" fill="#b9bdc6" />
<rect x="1262" y="900" width="6" height="5" fill="#b9bdc6" />
<rect x="1262" y="905" width="6" height="5" fill="#b9bdc6" />
<rect x="1270" y="894" width="6" height="6" fill="#b9bdc6" />
<rect x="1270" y="900" width="6" height="5" fill="#b9bdc6" />
<rect x="1270" y="905" width="6" height="5" fill="#e3394c" />
<rect x="1278" y="894" width="6" height="6" fill="#b9bdc6" />
<rect x="1278" y="900" width="6" height="5" fill="#b9bdc6" />
<rect x="1278" y="905" width="6" height="5" fill="#e3394c" />
<rect x="1286" y="894" width="6" height="6" fill="#b9bdc6" />
<rect x="1286" y="900" width="6" height="5" fill="#b9bdc6" />
<rect x="1286" y="905" width="6" height="5" fill="#e3394c" />
<rect x="1294" y="894" width="6" height="6" fill="#b9bdc6" />
<rect x="1294" y="900" width="6" height="5" fill="#b9bdc6" />
<rect x="1294" y="905" width="6" height="5" fill="#e3394c" />
<rect x="1302" y="894" width="6" height="6" fill="#b9bdc6" />
<rect x="1302" y="900" width="6" height="5" fill="#b9bdc6" />
<rect x="1302" y="905" width="6" height="5" fill="#e3394c" />
<rect x="1310" y="894" width="6" height="6" fill="#b9bdc6" />
<rect x="1310" y="900" width="6" height="5" fill="#e3394c" />
<rect x="1310" y="905" width="6" height="5" fill="#e3394c" />
<rect x="1318" y="894" width="6" height="6" fill="#b9bdc6" />
<rect x="1318" y="900" width="6" height="5" fill="#e3394c" />
<rect x="1318" y="905" width="6" height="5" fill="#e3394c" />
<rect x="1326" y="894" width="6" height="6" fill="#b9bdc6" />
<rect x="1326" y="900" width="6" height="5" fill="#e3394c" />
<rect x="1326" y="905" width="6" height="5" fill="#e3394c" />
<rect x="1334" y="894" width="6" height="6" fill="#b9bdc6" />
<rect x="1334" y="900" width="6" height="5" fill="#e3394c" />
<rect x="1334" y="905" width="6" height="5" fill="#e3394c" />
<rect x="1342" y="894" width="6" height="6" fill="#b9bdc6" />
<rect x="1342" y="900" width="6" height="5" fill="#e3394c" />
<rect x="1342" y="905" width="6" height="5" fill="#e3394c" />
<rect x="1350" y="894" width="6" height="6" fill="#b9bdc6" />
<rect x="1350" y="900" width="6" height="5" fill="#e3394c" />
<rect x="1350" y="905" width="6" height="5" fill="#e3394c" />
<rect x="1358" y="894" width="6" height="6" fill="#b9bdc6" />
<rect x="1358" y="900" width="6" height="5" fill="#e3394c" />
<rect x="1358" y="905" width="6" height="5" fill="#e3394c" />
<rect x="1366" y="894" width="6" height="6" fill="#b9bdc6" />
<rect x="1366" y="900" width="6" height="5" fill="#e3394c" />
<rect x="1366" y="905" width="6" height="5" fill="#e3394c" />
<rect x="1374" y="894" width="6" height="6" fill="#b9bdc6" />
<rect x="1374" y="900" width="6" height="5" fill="#e3394c" />
<rect x="1374" y="905" width="6" height="5" fill="#e3394c" />
<rect x="1382" y="894" width="6" height="6" fill="#b9bdc6" />
<rect x="1382" y="900" width="6" height="5" fill="#b9bdc6" />
<rect x="1382" y="905" width="6" height="5" fill="#b9bdc6" />
<rect x="1390" y="894" width="6" height="6" fill="#b9bdc6" />
<rect x="1390" y="900" width="6" height="5" fill="#b9bdc6" />
<rect x="1390" y="905" width="6" height="5" fill="#b9bdc6" />
<rect x="1398" y="894" width="6" height="6" fill="#b9bdc6" />
<rect x="1398" y="900" width="6" height="5" fill="#b9bdc6" />
<rect x="1398" y="905" width="6" height="5" fill="#b9bdc6" />
<rect x="1406" y="894" width="6" height="6" fill="#b9bdc6" />
<rect x="1406" y="900" width="6" height="5" fill="#b9bdc6" />
<rect x="1406" y="905" width="6" height="5" fill="#e3394c" />
<rect x="1414" y="894" width="6" height="6" fill="#b9bdc6" />
<rect x="1414" y="900" width="6" height="5" fill="#b9bdc6" />
<rect x="1414" y="905" width="6" height="5" fill="#e3394c" />
<rect x="1422" y="894" width="6" height="6" fill="#b9bdc6" />
<rect x="1422" y="900" width="6" height="5" fill="#b9bdc6" />
<rect x="1422" y="905" width="6" height="5" fill="#b9bdc6" />
<rect x="1430" y="894" width="6" height="6" fill="#b9bdc6" />
<rect x="1430" y="900" width="6" height="5" fill="#b9bdc6" />
<rect x="1430" y="905" width="6" height="5" fill="#b9bdc6" />
<rect x="1438" y="894" width="6" height="6" fill="#b9bdc6" />
<rect x="1438" y="900" width="6" height="5" fill="#b9bdc6" />
<rect x="1438" y="905" width="6" height="5" fill="#b9bdc6" />
<rect x="1446" y="894" width="6" height="6" fill="#b9bdc6" />
<rect x="1446" y="900" width="6" height="5" fill="#b9bdc6" />
<rect x="1446" y="905" width="6" height="5" fill="#b9bdc6" />
<rect x="0" y="681" width="1641" height="1" fill="#f0f0f0" />
<rect x="0" y="683" width="1641" height="1" fill="#f0f0f0" />
<rect x="0" y="843" width="1641" height="1" fill="#f0f0f0" />
<rect x="0" y="845" width="1641" height="1" fill="#f0f0f0" />
<rect x="0" y="867" width="1641" height="1" fill="#f0f0f0" />
<rect x="0" y="869" width="1641" height="1" fill="#f0f0f0" />
<rect x="0" y="889" width="1641" height="1" fill="#f0f0f0" />
<rect x="0" y="891" width="1641" height="1" fill="#f0f0f0" />
<rect x="0" y="913" width="1641" height="1" fill="#f0f0f0" />
<rect x="0" y="0" width="1" height="915" fill="#f0f0f0" />
<rect x="0" y="113" width="54" height="226" fill="#ffffff" />
<rect x="34" y="120" width="19" height="19" fill="#c75050" />
<text x="43.5" y="133" font-size="11" fill="#fff" font-weight="bold" text-anchor="middle" >x</text>
<rect x="0" y="143" width="53" height="3" fill="#f0f0f0" />
<rect x="0" y="146" width="53" height="1" fill="#a0a0a0" />
<rect x="36" y="147" width="17" height="169" fill="#f0f0f0" />
<rect x="36" y="164" width="15" height="118" fill="#cdcdcd" />
<path class="aa" d="M40 158.5L43.5 155L47 158.5" stroke="#606060" stroke-width="1.6" fill="none" style="shape-rendering:geometricPrecision"/>
<path class="aa" d="M40 306L43.5 309.5L47 306" stroke="#606060" stroke-width="1.6" fill="none" style="shape-rendering:geometricPrecision"/>
<text x="8" y="162" font-size="11" fill="#000" text-anchor="end" >sk</text>
<text x="27" y="162" font-size="11" fill="#700000" text-anchor="middle" >!</text>
<rect x="12" y="147" width="1" height="24" fill="#e0e0e0" />
<rect x="35" y="147" width="1" height="24" fill="#e0e0e0" />
<rect x="0" y="171" width="12" height="19" fill="#0078d7" />
<rect x="13" y="171" width="22" height="19" fill="#0078d7" />
<rect x="0" y="190" width="36" height="1" fill="#c0c0c0" />
<rect x="12" y="171" width="1" height="20" fill="#c0c0c0" />
<text x="10" y="185" font-size="11" fill="#ffffff" text-anchor="end" >...</text>
<text x="31.5" y="185" font-size="11" fill="#ffffff" text-anchor="end" >13</text>
<rect x="0" y="191" width="12" height="19" fill="#ffb6c1" />
<rect x="13" y="191" width="22" height="19" fill="#ffb6c1" />
<rect x="0" y="210" width="36" height="1" fill="#c0c0c0" />
<rect x="12" y="191" width="1" height="20" fill="#c0c0c0" />
<text x="10" y="205" font-size="11" fill="#1a1aff" text-anchor="end" >34</text>
<text x="31.5" y="205" font-size="11" fill="#1a1aff" text-anchor="end" >30</text>
<rect x="0" y="211" width="12" height="19" fill="#ffc080" />
<rect x="13" y="211" width="22" height="19" fill="#ffc080" />
<rect x="0" y="230" width="36" height="1" fill="#c0c0c0" />
<rect x="12" y="211" width="1" height="20" fill="#c0c0c0" />
<text x="10" y="225" font-size="11" fill="#1a1aff" text-anchor="end" >...</text>
<text x="31.5" y="225" font-size="11" fill="#1a1aff" text-anchor="end" >...</text>
<rect x="0" y="231" width="12" height="19" fill="#ffb6c1" />
<rect x="13" y="231" width="22" height="19" fill="#ffb6c1" />
<rect x="0" y="250" width="36" height="1" fill="#c0c0c0" />
<rect x="12" y="231" width="1" height="20" fill="#c0c0c0" />
<text x="10" y="245" font-size="11" fill="#1a1aff" text-anchor="end" >67</text>
<text x="31.5" y="245" font-size="11" fill="#1a1aff" text-anchor="end" >20</text>
<rect x="0" y="251" width="12" height="19" fill="#80c0ff" />
<rect x="13" y="251" width="22" height="19" fill="#80c0ff" />
<rect x="0" y="270" width="36" height="1" fill="#c0c0c0" />
<rect x="12" y="251" width="1" height="20" fill="#c0c0c0" />
<text x="10" y="265" font-size="11" fill="#1a1aff" text-anchor="end" >...</text>
<text x="31.5" y="265" font-size="11" fill="#1a1aff" text-anchor="end" >26</text>
<rect x="0" y="271" width="12" height="19" fill="#80c0ff" />
<rect x="13" y="271" width="22" height="19" fill="#80c0ff" />
<rect x="0" y="290" width="36" height="1" fill="#c0c0c0" />
<rect x="12" y="271" width="1" height="20" fill="#c0c0c0" />
<text x="10" y="285" font-size="11" fill="#1a1aff" text-anchor="end" >.1</text>
<text x="31.5" y="285" font-size="11" fill="#1a1aff" text-anchor="end" >4</text>
<rect x="0" y="291" width="12" height="19" fill="#a6ff4d" />
<rect x="13" y="291" width="22" height="19" fill="#a6ff4d" />
<rect x="0" y="310" width="36" height="1" fill="#c0c0c0" />
<rect x="12" y="291" width="1" height="20" fill="#c0c0c0" />
<text x="10" y="305" font-size="11" fill="#1a1aff" text-anchor="end" >...</text>
<text x="31.5" y="305" font-size="11" fill="#1a1aff" text-anchor="end" >0</text>
<rect x="0" y="311" width="12" height="5" fill="#a6ff4d" />
<rect x="13" y="311" width="22" height="5" fill="#a6ff4d" />
<rect x="0" y="316" width="36" height="1" fill="#c0c0c0" />
<rect x="12" y="311" width="1" height="6" fill="#c0c0c0" />
<rect x="0" y="316" width="52" height="1" fill="#000000" />
<rect x="0" y="317" width="53" height="21" fill="#f0f0f0" />
<rect x="0" y="320" width="1" height="13" fill="#555" />
</svg></body></html>
